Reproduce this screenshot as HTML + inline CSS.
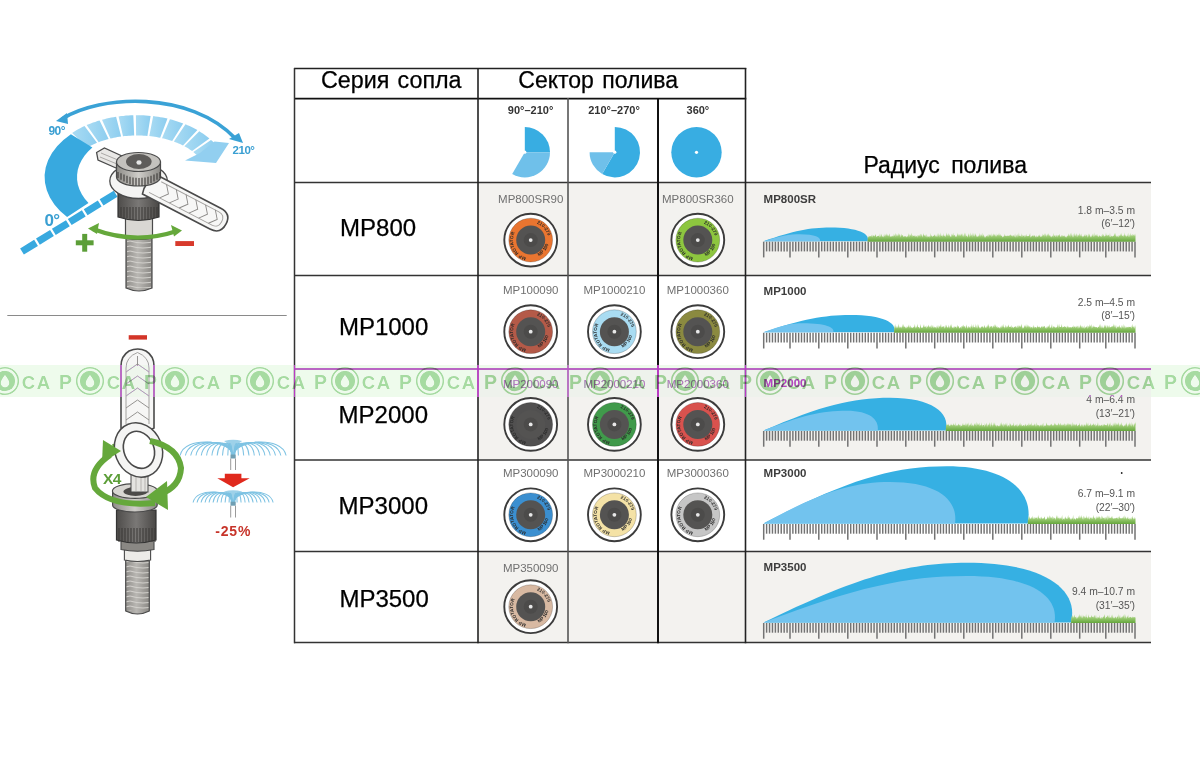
<!DOCTYPE html>
<html><head><meta charset="utf-8"><title>MP Rotator</title>
<style>
html,body{margin:0;padding:0;background:#fff;}
body{width:1200px;height:762px;overflow:hidden;position:relative;font-family:"Liberation Sans",sans-serif;}
svg.main{position:absolute;left:0;top:0;}
.wm{position:absolute;left:0;top:365px;width:1200px;height:31.5px;}
.wl{background:rgb(185,60,195);mix-blend-mode:lighten;}
.wov{background:rgb(238,251,236);mix-blend-mode:darken;}
</style></head><body>
<svg class="main" width="1200" height="762" viewBox="0 0 1200 762" font-family="Liberation Sans, sans-serif"><defs>
<g id="noz">
 <circle r="26.4" fill="#fff" stroke="#3c3c3c" stroke-width="1.9"/>
 <circle r="21.9" fill="currentColor" stroke="#000" stroke-opacity="0.25" stroke-width="0.8"/>
 <circle r="14.5" fill="#545352"/>
 <circle r="7" fill="#4c4b4a"/>
 <circle r="1.9" fill="#e8e8e8"/>
 <path id="arcL" d="M -4.5 17.2 A 17.8 17.8 0 0 1 -12 -13" fill="none"/>
 <text font-size="4.6" font-weight="bold" fill="#2a2a2a" letter-spacing="0.1"><textPath href="#arcL">MP ROTATOR</textPath></text>
 <path id="arcR" d="M 6 -16.5 A 17.8 17.8 0 0 1 17.5 3" fill="none"/>
 <text font-size="4.6" font-weight="bold" fill="#2a2a2a"><textPath href="#arcR">210-270</textPath></text>
 <path id="arcB" d="M 8 16 A 17.8 17.8 0 0 0 17.5 5" fill="none"/>
 <text font-size="4.6" font-weight="bold" fill="#2a2a2a"><textPath href="#arcB">MP 1000</textPath></text>
</g>
</defs><rect x="478" y="182.5" width="673" height="93.0" fill="#f3f2ef"/><rect x="478" y="369" width="673" height="91" fill="#f3f2ef"/><rect x="478" y="551.5" width="673" height="91.0" fill="#f3f2ef"/><line x1="294" y1="68.5" x2="746.3" y2="68.5" stroke="#222" stroke-width="1.4"/><line x1="294" y1="98.7" x2="746.3" y2="98.7" stroke="#111" stroke-width="1.8"/><line x1="294" y1="182.5" x2="1151" y2="182.5" stroke="#333" stroke-width="1.5"/><line x1="294" y1="275.5" x2="1151" y2="275.5" stroke="#333" stroke-width="1.5"/><line x1="294" y1="369" x2="1151" y2="369" stroke="#333" stroke-width="1.5"/><line x1="294" y1="460" x2="1151" y2="460" stroke="#333" stroke-width="1.5"/><line x1="294" y1="551.5" x2="1151" y2="551.5" stroke="#333" stroke-width="1.5"/><line x1="294" y1="642.5" x2="1151" y2="642.5" stroke="#333" stroke-width="1.5"/><line x1="294.5" y1="68" x2="294.5" y2="643.2" stroke="#333" stroke-width="1.5"/><line x1="478" y1="68" x2="478" y2="643.2" stroke="#222" stroke-width="1.6"/><line x1="568" y1="98" x2="568" y2="643.2" stroke="#555" stroke-width="1.6"/><line x1="658" y1="98" x2="658" y2="643.2" stroke="#111" stroke-width="2.0"/><line x1="745.5" y1="68" x2="745.5" y2="643.2" stroke="#222" stroke-width="1.6"/><text x="321" y="88.2" font-size="23.3" fill="#000" stroke="#000" stroke-width="0.25" word-spacing="1.7">Серия сопла</text><text x="518.3" y="88.2" font-size="23" fill="#000" stroke="#000" stroke-width="0.25" word-spacing="2">Сектор полива</text><text x="863.4" y="172.6" font-size="23" fill="#000" stroke="#000" stroke-width="0.25" word-spacing="5">Радиус полива</text><g font-size="11" font-weight="bold" fill="#333" text-anchor="middle"><text x="530.6" y="113.6">90°–210°</text><text x="614" y="113.6">210°–270°</text><text x="697.9" y="113.6">360°</text></g><path d="M524.8,152.2 L524.80,127.00 A25.2,25.2 0 0 1 550.00,152.20 Z" fill="#38ade2"/><path d="M524.8,152.2 L550.00,152.20 A25.2,25.2 0 0 1 512.20,174.02 Z" fill="#6fc0ea"/><path d="M614.8,152.2 L614.80,127.00 A25.2,25.2 0 1 1 602.20,174.02 Z" fill="#38ade2"/><path d="M614.8,152.2 L602.20,174.02 A25.2,25.2 0 0 1 589.60,152.20 Z" fill="#6fc0ea"/><circle cx="696.5" cy="152.3" r="25.2" fill="#38ade2"/><circle cx="524.8" cy="152.2" r="1.6" fill="#fff"/><circle cx="614.8" cy="152.2" r="1.6" fill="#fff"/><circle cx="696.5" cy="152.3" r="1.6" fill="#fff"/><text x="340.1" y="236" font-size="24" fill="#000" stroke="#000" stroke-width="0.25">MP800</text><text x="338.9" y="334.8" font-size="24" fill="#000" stroke="#000" stroke-width="0.25">MP1000</text><text x="338.6" y="422.7" font-size="24" fill="#000" stroke="#000" stroke-width="0.25">MP2000</text><text x="338.6" y="513.5" font-size="24" fill="#000" stroke="#000" stroke-width="0.25">MP3000</text><text x="339.4" y="607.1" font-size="24" fill="#000" stroke="#000" stroke-width="0.25">MP3500</text><text x="530.7" y="203.1" font-size="11.5" fill="#707070" text-anchor="middle">MP800SR90</text><use href="#noz" x="530.7" y="240.1" color="#ea7530"/><text x="697.8" y="203.1" font-size="11.5" fill="#707070" text-anchor="middle">MP800SR360</text><use href="#noz" x="697.8" y="240.1" color="#8dc63f"/><text x="530.7" y="293.5" font-size="11.5" fill="#707070" text-anchor="middle">MP100090</text><use href="#noz" x="530.7" y="331.7" color="#b45a48"/><text x="614.4" y="293.5" font-size="11.5" fill="#707070" text-anchor="middle">MP1000210</text><use href="#noz" x="614.4" y="331.7" color="#a9dcf2"/><text x="697.8" y="293.5" font-size="11.5" fill="#707070" text-anchor="middle">MP1000360</text><use href="#noz" x="697.8" y="331.7" color="#8b8a40"/><text x="530.7" y="387.5" font-size="11.5" fill="#707070" text-anchor="middle">MP200090</text><use href="#noz" x="530.7" y="424.4" color="#515050"/><text x="614.4" y="387.5" font-size="11.5" fill="#707070" text-anchor="middle">MP2000210</text><use href="#noz" x="614.4" y="424.4" color="#409a4b"/><text x="697.8" y="387.5" font-size="11.5" fill="#707070" text-anchor="middle">MP2000360</text><use href="#noz" x="697.8" y="424.4" color="#d9524e"/><text x="530.7" y="476.7" font-size="11.5" fill="#707070" text-anchor="middle">MP300090</text><use href="#noz" x="530.7" y="514.8" color="#3b8fd0"/><text x="614.4" y="476.7" font-size="11.5" fill="#707070" text-anchor="middle">MP3000210</text><use href="#noz" x="614.4" y="514.8" color="#f4e2a6"/><text x="697.8" y="476.7" font-size="11.5" fill="#707070" text-anchor="middle">MP3000360</text><use href="#noz" x="697.8" y="514.8" color="#c6c6c6"/><text x="530.7" y="571.5" font-size="11.5" fill="#707070" text-anchor="middle">MP350090</text><use href="#noz" x="530.7" y="606.7" color="#d8b9a2"/><defs><linearGradient id="grassg" x1="0" y1="0" x2="0" y2="1">
<stop offset="0" stop-color="#d2ebbc"/><stop offset="0.45" stop-color="#9ccb74"/><stop offset="1" stop-color="#64a63c"/></linearGradient></defs><path d="M763.5,241.2 C793.4,230.9 810.0,227.5 830.0,227.5 C858.1,227.5 870.5,233.7 867.5,241.2 Z" fill="#36b0e3"/><path d="M763.5,241.2 C779.9,235.9 789.0,234.2 800.0,234.2 C815.0,234.2 821.0,237.3 820.0,241.2 Z" fill="#72c3ee"/><path d="M867.5,241.7 L868.0,234.9 L868.5,237.4 L869.5,235.9 L870.0,236.6 L870.8,236.0 L871.3,236.7 L871.8,234.5 L872.3,237.6 L872.9,234.5 L873.4,236.0 L874.0,235.3 L874.5,236.4 L875.8,233.9 L876.3,236.9 L877.6,236.0 L878.1,236.0 L878.8,235.6 L879.3,237.5 L880.0,232.9 L880.5,237.3 L881.5,233.6 L882.0,237.0 L882.9,235.9 L883.4,237.6 L884.1,233.5 L884.6,236.8 L885.4,233.9 L885.9,236.8 L886.6,233.0 L887.1,236.3 L887.8,233.9 L888.3,236.6 L889.5,233.3 L890.0,237.1 L891.3,235.7 L891.8,236.9 L892.9,235.6 L893.4,236.7 L893.9,233.5 L894.4,236.2 L895.4,232.7 L895.9,237.1 L896.9,233.8 L897.4,236.5 L898.3,232.8 L898.8,235.8 L899.7,233.5 L900.2,237.6 L901.2,233.6 L901.7,235.7 L902.9,235.1 L903.4,236.9 L904.4,236.1 L904.9,236.8 L905.6,235.7 L906.1,237.6 L907.2,235.7 L907.7,237.2 L908.5,232.7 L909.0,237.5 L909.8,234.0 L910.3,235.9 L911.5,232.7 L912.0,237.1 L912.8,234.8 L913.3,235.9 L914.6,235.6 L915.1,237.3 L915.8,235.3 L916.3,236.7 L917.3,235.1 L917.8,237.7 L918.6,234.7 L919.1,236.6 L920.4,233.4 L920.9,236.7 L921.8,233.5 L922.3,237.6 L923.6,233.1 L924.1,236.0 L925.2,234.6 L925.7,236.9 L926.3,233.7 L926.8,237.6 L927.3,235.4 L927.8,237.4 L928.6,236.0 L929.1,237.7 L929.7,235.8 L930.2,237.0 L930.8,232.7 L931.3,236.5 L931.9,235.2 L932.4,237.0 L933.2,235.7 L933.7,236.0 L935.0,234.3 L935.5,236.7 L936.0,235.8 L936.5,237.0 L937.2,232.9 L937.7,237.4 L938.3,232.4 L938.8,236.6 L939.4,234.0 L939.9,237.6 L940.8,232.3 L941.3,236.0 L942.4,235.2 L942.9,237.0 L943.5,233.1 L944.0,236.6 L945.1,234.9 L945.6,237.3 L946.8,232.3 L947.3,236.0 L948.4,232.9 L948.9,236.2 L949.6,234.1 L950.1,237.0 L950.6,236.1 L951.1,237.1 L951.8,233.4 L952.3,235.8 L953.2,232.5 L953.7,235.7 L954.9,234.7 L955.4,237.3 L956.1,235.4 L956.6,237.3 L957.6,232.6 L958.1,236.0 L959.0,233.6 L959.5,236.1 L960.1,233.6 L960.6,235.9 L961.7,233.2 L962.2,236.7 L962.8,233.0 L963.3,237.0 L964.5,232.3 L965.0,236.9 L965.8,232.4 L966.3,236.3 L966.9,235.7 L967.4,237.4 L968.7,233.0 L969.2,237.4 L970.3,232.3 L970.8,236.4 L971.6,234.0 L972.1,237.4 L972.6,232.3 L973.1,236.4 L974.0,232.5 L974.5,236.8 L975.7,232.9 L976.2,237.3 L976.9,235.0 L977.4,237.2 L978.4,235.2 L978.9,236.9 L979.5,232.6 L980.0,237.0 L980.9,233.9 L981.4,235.9 L982.2,232.5 L982.7,236.7 L983.6,234.1 L984.1,237.7 L985.0,235.5 L985.5,237.7 L986.6,235.5 L987.1,236.8 L988.2,234.0 L988.7,237.0 L989.6,234.0 L990.1,236.1 L990.7,234.0 L991.2,237.2 L991.9,233.1 L992.4,236.7 L993.4,233.2 L993.9,235.9 L994.7,233.7 L995.2,236.7 L996.1,233.4 L996.6,236.8 L997.6,234.3 L998.1,235.8 L999.1,232.7 L999.6,235.8 L1000.3,234.0 L1000.8,235.8 L1002.0,235.7 L1002.5,237.5 L1003.4,235.9 L1003.9,237.2 L1004.4,233.5 L1004.9,236.1 L1006.1,235.6 L1006.6,236.3 L1007.7,235.6 L1008.2,235.9 L1009.4,235.3 L1009.9,235.8 L1010.8,234.3 L1011.3,235.7 L1012.4,235.6 L1012.9,236.8 L1013.8,234.8 L1014.3,237.3 L1015.1,233.3 L1015.6,237.7 L1016.5,234.4 L1017.0,237.7 L1017.8,233.7 L1018.3,236.7 L1018.9,232.3 L1019.4,236.1 L1020.6,235.8 L1021.1,237.2 L1021.7,233.1 L1022.2,237.2 L1022.8,234.5 L1023.3,235.9 L1024.4,235.2 L1024.9,237.4 L1026.2,233.9 L1026.7,236.3 L1027.2,236.0 L1027.7,236.3 L1028.6,235.9 L1029.1,235.8 L1030.1,233.0 L1030.6,237.5 L1031.8,235.9 L1032.3,236.0 L1033.1,234.8 L1033.6,236.6 L1034.9,235.1 L1035.4,237.4 L1036.3,235.2 L1036.8,237.5 L1037.4,236.0 L1037.9,237.3 L1038.7,235.0 L1039.2,236.2 L1039.9,234.2 L1040.4,237.3 L1041.2,236.1 L1041.7,237.2 L1042.2,233.3 L1042.7,236.6 L1043.3,234.3 L1043.8,235.8 L1044.4,232.9 L1044.9,236.8 L1045.8,232.9 L1046.3,236.9 L1047.2,233.4 L1047.7,235.7 L1048.5,232.9 L1049.0,236.3 L1050.0,234.6 L1050.5,237.0 L1051.1,235.7 L1051.6,237.6 L1052.6,235.2 L1053.1,237.4 L1053.7,232.8 L1054.2,236.0 L1055.2,235.1 L1055.7,237.2 L1056.5,234.4 L1057.0,237.4 L1057.8,235.1 L1058.3,235.8 L1059.6,234.0 L1060.1,237.2 L1061.4,235.0 L1061.9,237.0 L1062.4,234.7 L1062.9,236.8 L1063.8,235.4 L1064.3,236.7 L1064.8,235.1 L1065.3,237.5 L1066.1,236.0 L1066.6,237.7 L1067.4,235.3 L1067.9,236.5 L1068.8,233.2 L1069.3,236.4 L1070.4,232.7 L1070.9,236.9 L1071.6,232.3 L1072.1,237.4 L1073.2,233.6 L1073.7,237.6 L1074.9,232.6 L1075.4,236.4 L1076.5,233.0 L1077.0,237.4 L1077.9,234.2 L1078.4,236.0 L1079.5,232.9 L1080.0,236.5 L1081.2,233.5 L1081.7,236.3 L1082.4,236.1 L1082.9,237.4 L1083.7,235.8 L1084.2,236.0 L1085.1,233.7 L1085.6,236.4 L1086.7,234.2 L1087.2,237.7 L1088.3,233.2 L1088.8,236.7 L1089.8,233.6 L1090.3,237.6 L1091.3,235.2 L1091.8,237.6 L1092.6,233.3 L1093.1,237.3 L1094.2,232.3 L1094.7,236.7 L1095.5,234.3 L1096.0,236.3 L1097.1,233.7 L1097.6,236.4 L1098.1,235.6 L1098.6,237.2 L1099.7,235.0 L1100.2,236.6 L1100.7,236.0 L1101.2,237.2 L1102.3,233.4 L1102.8,236.3 L1103.5,234.1 L1104.0,236.8 L1104.9,235.7 L1105.4,235.9 L1106.0,232.3 L1106.5,235.8 L1107.1,234.4 L1107.6,236.1 L1108.8,234.4 L1109.3,237.2 L1110.0,232.4 L1110.5,237.3 L1111.5,235.6 L1112.0,236.7 L1113.2,235.7 L1113.7,236.1 L1114.6,232.7 L1115.1,236.3 L1115.8,232.6 L1116.3,236.7 L1116.8,236.2 L1117.3,236.7 L1118.2,235.0 L1118.7,237.4 L1119.5,234.9 L1120.0,236.0 L1120.5,233.2 L1121.0,236.0 L1121.6,232.5 L1122.1,236.3 L1123.3,235.0 L1123.8,237.0 L1124.6,232.2 L1125.1,236.5 L1125.9,234.5 L1126.4,237.1 L1126.9,235.8 L1127.4,236.0 L1128.2,232.5 L1128.7,237.2 L1129.4,234.2 L1129.9,237.3 L1130.7,232.4 L1131.2,235.9 L1132.3,233.7 L1132.8,235.9 L1134.1,234.0 L1134.6,236.3 L1135.1,233.3 L1135.6,236.8 L1135.5,235.2 L1135.5,241.7 Z" fill="url(#grassg)"/><g stroke="#737373" stroke-width="1.45"><line x1="763.70" y1="241.7" x2="763.70" y2="257.4" stroke-width="1.5"/><line x1="790.00" y1="241.7" x2="790.00" y2="257.4" stroke-width="1.5"/><line x1="818.80" y1="241.7" x2="818.80" y2="257.4" stroke-width="1.5"/><line x1="847.80" y1="241.7" x2="847.80" y2="257.4" stroke-width="1.5"/><line x1="877.00" y1="241.7" x2="877.00" y2="257.4" stroke-width="1.5"/><line x1="905.80" y1="241.7" x2="905.80" y2="257.4" stroke-width="1.5"/><line x1="934.70" y1="241.7" x2="934.70" y2="257.4" stroke-width="1.5"/><line x1="963.80" y1="241.7" x2="963.80" y2="257.4" stroke-width="1.5"/><line x1="992.80" y1="241.7" x2="992.80" y2="257.4" stroke-width="1.5"/><line x1="1021.80" y1="241.7" x2="1021.80" y2="257.4" stroke-width="1.5"/><line x1="1050.80" y1="241.7" x2="1050.80" y2="257.4" stroke-width="1.5"/><line x1="1079.70" y1="241.7" x2="1079.70" y2="257.4" stroke-width="1.5"/><line x1="1105.80" y1="241.7" x2="1105.80" y2="257.4" stroke-width="1.5"/><line x1="1135.00" y1="241.7" x2="1135.00" y2="257.4" stroke-width="1.5"/><line x1="766.62" y1="241.7" x2="766.62" y2="251.39999999999998"/><line x1="769.54" y1="241.7" x2="769.54" y2="251.39999999999998"/><line x1="772.47" y1="241.7" x2="772.47" y2="251.39999999999998"/><line x1="775.39" y1="241.7" x2="775.39" y2="251.39999999999998"/><line x1="778.31" y1="241.7" x2="778.31" y2="251.39999999999998"/><line x1="781.23" y1="241.7" x2="781.23" y2="251.39999999999998"/><line x1="784.16" y1="241.7" x2="784.16" y2="251.39999999999998"/><line x1="787.08" y1="241.7" x2="787.08" y2="251.39999999999998"/><line x1="792.88" y1="241.7" x2="792.88" y2="251.39999999999998"/><line x1="795.76" y1="241.7" x2="795.76" y2="251.39999999999998"/><line x1="798.64" y1="241.7" x2="798.64" y2="251.39999999999998"/><line x1="801.52" y1="241.7" x2="801.52" y2="251.39999999999998"/><line x1="804.40" y1="241.7" x2="804.40" y2="251.39999999999998"/><line x1="807.28" y1="241.7" x2="807.28" y2="251.39999999999998"/><line x1="810.16" y1="241.7" x2="810.16" y2="251.39999999999998"/><line x1="813.04" y1="241.7" x2="813.04" y2="251.39999999999998"/><line x1="815.92" y1="241.7" x2="815.92" y2="251.39999999999998"/><line x1="821.70" y1="241.7" x2="821.70" y2="251.39999999999998"/><line x1="824.60" y1="241.7" x2="824.60" y2="251.39999999999998"/><line x1="827.50" y1="241.7" x2="827.50" y2="251.39999999999998"/><line x1="830.40" y1="241.7" x2="830.40" y2="251.39999999999998"/><line x1="833.30" y1="241.7" x2="833.30" y2="251.39999999999998"/><line x1="836.20" y1="241.7" x2="836.20" y2="251.39999999999998"/><line x1="839.10" y1="241.7" x2="839.10" y2="251.39999999999998"/><line x1="842.00" y1="241.7" x2="842.00" y2="251.39999999999998"/><line x1="844.90" y1="241.7" x2="844.90" y2="251.39999999999998"/><line x1="850.72" y1="241.7" x2="850.72" y2="251.39999999999998"/><line x1="853.64" y1="241.7" x2="853.64" y2="251.39999999999998"/><line x1="856.56" y1="241.7" x2="856.56" y2="251.39999999999998"/><line x1="859.48" y1="241.7" x2="859.48" y2="251.39999999999998"/><line x1="862.40" y1="241.7" x2="862.40" y2="251.39999999999998"/><line x1="865.32" y1="241.7" x2="865.32" y2="251.39999999999998"/><line x1="868.24" y1="241.7" x2="868.24" y2="251.39999999999998"/><line x1="871.16" y1="241.7" x2="871.16" y2="251.39999999999998"/><line x1="874.08" y1="241.7" x2="874.08" y2="251.39999999999998"/><line x1="879.88" y1="241.7" x2="879.88" y2="251.39999999999998"/><line x1="882.76" y1="241.7" x2="882.76" y2="251.39999999999998"/><line x1="885.64" y1="241.7" x2="885.64" y2="251.39999999999998"/><line x1="888.52" y1="241.7" x2="888.52" y2="251.39999999999998"/><line x1="891.40" y1="241.7" x2="891.40" y2="251.39999999999998"/><line x1="894.28" y1="241.7" x2="894.28" y2="251.39999999999998"/><line x1="897.16" y1="241.7" x2="897.16" y2="251.39999999999998"/><line x1="900.04" y1="241.7" x2="900.04" y2="251.39999999999998"/><line x1="902.92" y1="241.7" x2="902.92" y2="251.39999999999998"/><line x1="908.69" y1="241.7" x2="908.69" y2="251.39999999999998"/><line x1="911.58" y1="241.7" x2="911.58" y2="251.39999999999998"/><line x1="914.47" y1="241.7" x2="914.47" y2="251.39999999999998"/><line x1="917.36" y1="241.7" x2="917.36" y2="251.39999999999998"/><line x1="920.25" y1="241.7" x2="920.25" y2="251.39999999999998"/><line x1="923.14" y1="241.7" x2="923.14" y2="251.39999999999998"/><line x1="926.03" y1="241.7" x2="926.03" y2="251.39999999999998"/><line x1="928.92" y1="241.7" x2="928.92" y2="251.39999999999998"/><line x1="931.81" y1="241.7" x2="931.81" y2="251.39999999999998"/><line x1="937.61" y1="241.7" x2="937.61" y2="251.39999999999998"/><line x1="940.52" y1="241.7" x2="940.52" y2="251.39999999999998"/><line x1="943.43" y1="241.7" x2="943.43" y2="251.39999999999998"/><line x1="946.34" y1="241.7" x2="946.34" y2="251.39999999999998"/><line x1="949.25" y1="241.7" x2="949.25" y2="251.39999999999998"/><line x1="952.16" y1="241.7" x2="952.16" y2="251.39999999999998"/><line x1="955.07" y1="241.7" x2="955.07" y2="251.39999999999998"/><line x1="957.98" y1="241.7" x2="957.98" y2="251.39999999999998"/><line x1="960.89" y1="241.7" x2="960.89" y2="251.39999999999998"/><line x1="966.70" y1="241.7" x2="966.70" y2="251.39999999999998"/><line x1="969.60" y1="241.7" x2="969.60" y2="251.39999999999998"/><line x1="972.50" y1="241.7" x2="972.50" y2="251.39999999999998"/><line x1="975.40" y1="241.7" x2="975.40" y2="251.39999999999998"/><line x1="978.30" y1="241.7" x2="978.30" y2="251.39999999999998"/><line x1="981.20" y1="241.7" x2="981.20" y2="251.39999999999998"/><line x1="984.10" y1="241.7" x2="984.10" y2="251.39999999999998"/><line x1="987.00" y1="241.7" x2="987.00" y2="251.39999999999998"/><line x1="989.90" y1="241.7" x2="989.90" y2="251.39999999999998"/><line x1="995.70" y1="241.7" x2="995.70" y2="251.39999999999998"/><line x1="998.60" y1="241.7" x2="998.60" y2="251.39999999999998"/><line x1="1001.50" y1="241.7" x2="1001.50" y2="251.39999999999998"/><line x1="1004.40" y1="241.7" x2="1004.40" y2="251.39999999999998"/><line x1="1007.30" y1="241.7" x2="1007.30" y2="251.39999999999998"/><line x1="1010.20" y1="241.7" x2="1010.20" y2="251.39999999999998"/><line x1="1013.10" y1="241.7" x2="1013.10" y2="251.39999999999998"/><line x1="1016.00" y1="241.7" x2="1016.00" y2="251.39999999999998"/><line x1="1018.90" y1="241.7" x2="1018.90" y2="251.39999999999998"/><line x1="1024.70" y1="241.7" x2="1024.70" y2="251.39999999999998"/><line x1="1027.60" y1="241.7" x2="1027.60" y2="251.39999999999998"/><line x1="1030.50" y1="241.7" x2="1030.50" y2="251.39999999999998"/><line x1="1033.40" y1="241.7" x2="1033.40" y2="251.39999999999998"/><line x1="1036.30" y1="241.7" x2="1036.30" y2="251.39999999999998"/><line x1="1039.20" y1="241.7" x2="1039.20" y2="251.39999999999998"/><line x1="1042.10" y1="241.7" x2="1042.10" y2="251.39999999999998"/><line x1="1045.00" y1="241.7" x2="1045.00" y2="251.39999999999998"/><line x1="1047.90" y1="241.7" x2="1047.90" y2="251.39999999999998"/><line x1="1053.69" y1="241.7" x2="1053.69" y2="251.39999999999998"/><line x1="1056.58" y1="241.7" x2="1056.58" y2="251.39999999999998"/><line x1="1059.47" y1="241.7" x2="1059.47" y2="251.39999999999998"/><line x1="1062.36" y1="241.7" x2="1062.36" y2="251.39999999999998"/><line x1="1065.25" y1="241.7" x2="1065.25" y2="251.39999999999998"/><line x1="1068.14" y1="241.7" x2="1068.14" y2="251.39999999999998"/><line x1="1071.03" y1="241.7" x2="1071.03" y2="251.39999999999998"/><line x1="1073.92" y1="241.7" x2="1073.92" y2="251.39999999999998"/><line x1="1076.81" y1="241.7" x2="1076.81" y2="251.39999999999998"/><line x1="1082.60" y1="241.7" x2="1082.60" y2="251.39999999999998"/><line x1="1085.50" y1="241.7" x2="1085.50" y2="251.39999999999998"/><line x1="1088.40" y1="241.7" x2="1088.40" y2="251.39999999999998"/><line x1="1091.30" y1="241.7" x2="1091.30" y2="251.39999999999998"/><line x1="1094.20" y1="241.7" x2="1094.20" y2="251.39999999999998"/><line x1="1097.10" y1="241.7" x2="1097.10" y2="251.39999999999998"/><line x1="1100.00" y1="241.7" x2="1100.00" y2="251.39999999999998"/><line x1="1102.90" y1="241.7" x2="1102.90" y2="251.39999999999998"/><line x1="1108.72" y1="241.7" x2="1108.72" y2="251.39999999999998"/><line x1="1111.64" y1="241.7" x2="1111.64" y2="251.39999999999998"/><line x1="1114.56" y1="241.7" x2="1114.56" y2="251.39999999999998"/><line x1="1117.48" y1="241.7" x2="1117.48" y2="251.39999999999998"/><line x1="1120.40" y1="241.7" x2="1120.40" y2="251.39999999999998"/><line x1="1123.32" y1="241.7" x2="1123.32" y2="251.39999999999998"/><line x1="1126.24" y1="241.7" x2="1126.24" y2="251.39999999999998"/><line x1="1129.16" y1="241.7" x2="1129.16" y2="251.39999999999998"/><line x1="1132.08" y1="241.7" x2="1132.08" y2="251.39999999999998"/></g><text x="763.6" y="203.2" font-size="11.5" font-weight="bold" fill="#3d3d3d">MP800SR</text><text x="1135" y="213.7" font-size="10.3" fill="#555" text-anchor="end">1.8 m–3.5 m</text><text x="1135" y="227.4" font-size="10.3" fill="#555" text-anchor="end">(6′–12′)</text><path d="M763.5,332.3 C802.4,319.3 824.0,315.0 850.0,315.0 C883.0,315.0 897.5,322.8 894.0,332.3 Z" fill="#36b0e3"/><path d="M763.5,332.3 C781.3,325.6 791.1,323.3 803.0,323.3 C825.7,323.3 834.8,327.4 833.3,332.3 Z" fill="#72c3ee"/><path d="M894.0,332.8 L894.5,324.7 L895.0,328.2 L895.5,323.6 L896.0,328.5 L896.9,325.9 L897.4,328.2 L898.5,323.4 L899.0,328.3 L900.0,326.1 L900.5,327.7 L901.3,326.6 L901.8,328.5 L902.5,323.7 L903.0,327.8 L903.7,323.7 L904.2,326.8 L905.1,326.7 L905.6,328.4 L906.1,325.9 L906.6,328.6 L907.3,326.3 L907.8,327.7 L909.0,324.3 L909.5,328.0 L910.4,325.2 L910.9,328.0 L911.6,327.1 L912.1,328.2 L913.4,326.8 L913.9,327.8 L914.9,323.8 L915.4,328.4 L916.1,326.3 L916.6,328.0 L917.5,323.5 L918.0,327.1 L919.2,327.2 L919.7,328.7 L920.7,323.7 L921.2,327.9 L922.2,327.3 L922.7,328.0 L924.0,324.0 L924.5,327.1 L925.7,326.3 L926.2,328.6 L926.9,325.2 L927.4,327.4 L928.6,324.4 L929.1,327.5 L930.2,325.5 L930.7,327.7 L931.3,324.2 L931.8,328.3 L933.0,324.7 L933.5,328.2 L934.1,326.3 L934.6,327.5 L935.6,326.9 L936.1,328.7 L937.1,325.0 L937.6,328.0 L938.2,324.9 L938.7,328.8 L939.5,325.5 L940.0,326.9 L941.0,323.8 L941.5,327.8 L942.2,326.3 L942.7,326.9 L943.8,326.1 L944.3,328.8 L945.2,324.6 L945.7,328.0 L946.4,324.6 L946.9,326.9 L947.5,327.2 L948.0,328.1 L948.9,324.6 L949.4,328.4 L950.5,324.3 L951.0,327.8 L951.7,323.4 L952.2,328.2 L953.3,326.4 L953.8,328.4 L954.9,326.1 L955.4,326.9 L956.3,326.6 L956.8,328.4 L957.7,324.6 L958.2,326.9 L958.8,325.7 L959.3,328.4 L960.6,326.7 L961.1,328.7 L961.6,325.7 L962.1,327.0 L963.3,324.4 L963.8,326.8 L965.1,326.0 L965.6,328.4 L966.8,324.3 L967.3,328.7 L968.4,325.8 L968.9,328.1 L969.6,326.6 L970.1,328.8 L970.8,325.9 L971.3,326.9 L971.9,323.4 L972.4,328.4 L973.2,324.0 L973.7,327.2 L974.6,327.1 L975.1,327.9 L975.9,323.6 L976.4,328.4 L977.2,323.7 L977.7,328.7 L978.5,324.1 L979.0,327.3 L979.5,327.2 L980.0,328.7 L981.3,326.3 L981.8,327.3 L983.0,325.9 L983.5,328.3 L984.7,324.8 L985.2,328.3 L986.3,326.0 L986.8,328.2 L987.3,324.3 L987.8,327.0 L988.8,323.5 L989.3,328.8 L990.0,325.4 L990.5,326.9 L991.8,325.8 L992.3,328.3 L993.1,325.3 L993.6,326.9 L994.3,324.1 L994.8,327.3 L995.9,324.2 L996.4,327.6 L997.2,326.0 L997.7,328.1 L998.8,327.0 L999.3,328.4 L1000.4,326.3 L1000.9,328.7 L1001.4,325.1 L1001.9,328.1 L1003.2,323.8 L1003.7,326.8 L1004.4,327.0 L1004.9,328.6 L1005.8,324.5 L1006.3,327.9 L1007.0,325.6 L1007.5,327.6 L1008.6,324.3 L1009.1,327.1 L1010.1,326.8 L1010.6,327.1 L1011.3,325.0 L1011.8,328.1 L1012.9,326.5 L1013.4,328.3 L1014.1,326.7 L1014.6,327.0 L1015.6,326.0 L1016.1,328.0 L1017.4,325.3 L1017.9,328.3 L1019.0,324.7 L1019.5,326.8 L1020.1,325.4 L1020.6,327.2 L1021.8,323.6 L1022.3,328.7 L1023.0,326.8 L1023.5,328.4 L1024.8,325.0 L1025.3,326.9 L1026.1,323.8 L1026.6,327.9 L1027.3,324.2 L1027.8,326.9 L1028.4,324.9 L1028.9,327.6 L1029.6,325.8 L1030.1,328.5 L1030.7,326.3 L1031.2,327.6 L1032.2,326.5 L1032.7,328.8 L1033.5,324.6 L1034.0,328.4 L1034.7,326.5 L1035.2,327.2 L1036.2,327.0 L1036.7,328.6 L1037.5,325.1 L1038.0,327.5 L1038.6,326.6 L1039.1,327.4 L1039.9,326.2 L1040.4,328.2 L1041.7,326.1 L1042.2,327.7 L1043.0,325.6 L1043.5,327.1 L1044.8,325.8 L1045.3,328.4 L1046.3,326.5 L1046.8,328.8 L1048.1,325.6 L1048.6,327.2 L1049.4,323.8 L1049.9,327.9 L1050.5,327.2 L1051.0,327.7 L1052.0,323.7 L1052.5,328.6 L1053.5,325.8 L1054.0,327.8 L1054.6,326.2 L1055.1,327.8 L1056.4,326.9 L1056.9,327.8 L1058.0,323.4 L1058.5,328.4 L1059.1,323.5 L1059.6,326.8 L1060.5,327.1 L1061.0,326.9 L1061.8,323.7 L1062.3,327.6 L1063.5,326.7 L1064.0,327.2 L1064.7,325.7 L1065.2,327.1 L1066.3,326.6 L1066.8,328.4 L1067.6,325.2 L1068.1,328.0 L1068.7,326.3 L1069.2,327.4 L1070.5,327.1 L1071.0,327.7 L1072.1,327.1 L1072.6,327.1 L1073.2,324.9 L1073.7,327.7 L1074.7,326.1 L1075.2,328.0 L1076.1,325.6 L1076.6,327.5 L1077.5,325.5 L1078.0,328.8 L1079.0,325.3 L1079.5,328.3 L1080.6,324.2 L1081.1,327.9 L1081.7,325.4 L1082.2,328.6 L1082.8,325.6 L1083.3,328.6 L1084.2,325.3 L1084.7,328.7 L1085.7,327.0 L1086.2,327.3 L1087.3,325.3 L1087.8,328.7 L1088.7,325.8 L1089.2,326.9 L1089.8,323.9 L1090.3,326.8 L1091.4,324.0 L1091.9,328.4 L1093.2,325.3 L1093.7,326.9 L1094.9,326.6 L1095.4,327.2 L1096.7,327.0 L1097.2,328.1 L1098.3,326.7 L1098.8,327.0 L1099.5,324.0 L1100.0,328.5 L1100.9,323.6 L1101.4,328.4 L1102.1,325.3 L1102.6,328.2 L1103.1,326.6 L1103.6,328.5 L1104.9,324.6 L1105.4,327.0 L1106.0,324.2 L1106.5,328.6 L1107.5,324.8 L1108.0,328.1 L1109.2,325.1 L1109.7,327.6 L1110.9,326.9 L1111.4,326.8 L1112.4,325.7 L1112.9,327.2 L1113.6,323.3 L1114.1,327.6 L1114.9,324.2 L1115.4,327.9 L1116.0,324.3 L1116.5,328.7 L1117.7,326.3 L1118.2,327.5 L1119.4,325.0 L1119.9,327.5 L1120.7,327.3 L1121.2,328.7 L1121.8,324.8 L1122.3,327.9 L1123.2,323.7 L1123.7,328.5 L1124.4,324.7 L1124.9,328.8 L1125.4,325.9 L1125.9,328.6 L1126.7,326.4 L1127.2,327.6 L1128.2,326.5 L1128.7,327.6 L1129.5,326.8 L1130.0,326.9 L1130.7,326.7 L1131.2,328.6 L1132.3,323.8 L1132.8,327.2 L1133.6,326.2 L1134.1,328.8 L1135.1,325.1 L1135.6,328.1 L1135.5,326.3 L1135.5,332.8 Z" fill="url(#grassg)"/><g stroke="#737373" stroke-width="1.45"><line x1="763.70" y1="332.8" x2="763.70" y2="348.5" stroke-width="1.5"/><line x1="790.00" y1="332.8" x2="790.00" y2="348.5" stroke-width="1.5"/><line x1="818.80" y1="332.8" x2="818.80" y2="348.5" stroke-width="1.5"/><line x1="847.80" y1="332.8" x2="847.80" y2="348.5" stroke-width="1.5"/><line x1="877.00" y1="332.8" x2="877.00" y2="348.5" stroke-width="1.5"/><line x1="905.80" y1="332.8" x2="905.80" y2="348.5" stroke-width="1.5"/><line x1="934.70" y1="332.8" x2="934.70" y2="348.5" stroke-width="1.5"/><line x1="963.80" y1="332.8" x2="963.80" y2="348.5" stroke-width="1.5"/><line x1="992.80" y1="332.8" x2="992.80" y2="348.5" stroke-width="1.5"/><line x1="1021.80" y1="332.8" x2="1021.80" y2="348.5" stroke-width="1.5"/><line x1="1050.80" y1="332.8" x2="1050.80" y2="348.5" stroke-width="1.5"/><line x1="1079.70" y1="332.8" x2="1079.70" y2="348.5" stroke-width="1.5"/><line x1="1105.80" y1="332.8" x2="1105.80" y2="348.5" stroke-width="1.5"/><line x1="1135.00" y1="332.8" x2="1135.00" y2="348.5" stroke-width="1.5"/><line x1="766.62" y1="332.8" x2="766.62" y2="342.5"/><line x1="769.54" y1="332.8" x2="769.54" y2="342.5"/><line x1="772.47" y1="332.8" x2="772.47" y2="342.5"/><line x1="775.39" y1="332.8" x2="775.39" y2="342.5"/><line x1="778.31" y1="332.8" x2="778.31" y2="342.5"/><line x1="781.23" y1="332.8" x2="781.23" y2="342.5"/><line x1="784.16" y1="332.8" x2="784.16" y2="342.5"/><line x1="787.08" y1="332.8" x2="787.08" y2="342.5"/><line x1="792.88" y1="332.8" x2="792.88" y2="342.5"/><line x1="795.76" y1="332.8" x2="795.76" y2="342.5"/><line x1="798.64" y1="332.8" x2="798.64" y2="342.5"/><line x1="801.52" y1="332.8" x2="801.52" y2="342.5"/><line x1="804.40" y1="332.8" x2="804.40" y2="342.5"/><line x1="807.28" y1="332.8" x2="807.28" y2="342.5"/><line x1="810.16" y1="332.8" x2="810.16" y2="342.5"/><line x1="813.04" y1="332.8" x2="813.04" y2="342.5"/><line x1="815.92" y1="332.8" x2="815.92" y2="342.5"/><line x1="821.70" y1="332.8" x2="821.70" y2="342.5"/><line x1="824.60" y1="332.8" x2="824.60" y2="342.5"/><line x1="827.50" y1="332.8" x2="827.50" y2="342.5"/><line x1="830.40" y1="332.8" x2="830.40" y2="342.5"/><line x1="833.30" y1="332.8" x2="833.30" y2="342.5"/><line x1="836.20" y1="332.8" x2="836.20" y2="342.5"/><line x1="839.10" y1="332.8" x2="839.10" y2="342.5"/><line x1="842.00" y1="332.8" x2="842.00" y2="342.5"/><line x1="844.90" y1="332.8" x2="844.90" y2="342.5"/><line x1="850.72" y1="332.8" x2="850.72" y2="342.5"/><line x1="853.64" y1="332.8" x2="853.64" y2="342.5"/><line x1="856.56" y1="332.8" x2="856.56" y2="342.5"/><line x1="859.48" y1="332.8" x2="859.48" y2="342.5"/><line x1="862.40" y1="332.8" x2="862.40" y2="342.5"/><line x1="865.32" y1="332.8" x2="865.32" y2="342.5"/><line x1="868.24" y1="332.8" x2="868.24" y2="342.5"/><line x1="871.16" y1="332.8" x2="871.16" y2="342.5"/><line x1="874.08" y1="332.8" x2="874.08" y2="342.5"/><line x1="879.88" y1="332.8" x2="879.88" y2="342.5"/><line x1="882.76" y1="332.8" x2="882.76" y2="342.5"/><line x1="885.64" y1="332.8" x2="885.64" y2="342.5"/><line x1="888.52" y1="332.8" x2="888.52" y2="342.5"/><line x1="891.40" y1="332.8" x2="891.40" y2="342.5"/><line x1="894.28" y1="332.8" x2="894.28" y2="342.5"/><line x1="897.16" y1="332.8" x2="897.16" y2="342.5"/><line x1="900.04" y1="332.8" x2="900.04" y2="342.5"/><line x1="902.92" y1="332.8" x2="902.92" y2="342.5"/><line x1="908.69" y1="332.8" x2="908.69" y2="342.5"/><line x1="911.58" y1="332.8" x2="911.58" y2="342.5"/><line x1="914.47" y1="332.8" x2="914.47" y2="342.5"/><line x1="917.36" y1="332.8" x2="917.36" y2="342.5"/><line x1="920.25" y1="332.8" x2="920.25" y2="342.5"/><line x1="923.14" y1="332.8" x2="923.14" y2="342.5"/><line x1="926.03" y1="332.8" x2="926.03" y2="342.5"/><line x1="928.92" y1="332.8" x2="928.92" y2="342.5"/><line x1="931.81" y1="332.8" x2="931.81" y2="342.5"/><line x1="937.61" y1="332.8" x2="937.61" y2="342.5"/><line x1="940.52" y1="332.8" x2="940.52" y2="342.5"/><line x1="943.43" y1="332.8" x2="943.43" y2="342.5"/><line x1="946.34" y1="332.8" x2="946.34" y2="342.5"/><line x1="949.25" y1="332.8" x2="949.25" y2="342.5"/><line x1="952.16" y1="332.8" x2="952.16" y2="342.5"/><line x1="955.07" y1="332.8" x2="955.07" y2="342.5"/><line x1="957.98" y1="332.8" x2="957.98" y2="342.5"/><line x1="960.89" y1="332.8" x2="960.89" y2="342.5"/><line x1="966.70" y1="332.8" x2="966.70" y2="342.5"/><line x1="969.60" y1="332.8" x2="969.60" y2="342.5"/><line x1="972.50" y1="332.8" x2="972.50" y2="342.5"/><line x1="975.40" y1="332.8" x2="975.40" y2="342.5"/><line x1="978.30" y1="332.8" x2="978.30" y2="342.5"/><line x1="981.20" y1="332.8" x2="981.20" y2="342.5"/><line x1="984.10" y1="332.8" x2="984.10" y2="342.5"/><line x1="987.00" y1="332.8" x2="987.00" y2="342.5"/><line x1="989.90" y1="332.8" x2="989.90" y2="342.5"/><line x1="995.70" y1="332.8" x2="995.70" y2="342.5"/><line x1="998.60" y1="332.8" x2="998.60" y2="342.5"/><line x1="1001.50" y1="332.8" x2="1001.50" y2="342.5"/><line x1="1004.40" y1="332.8" x2="1004.40" y2="342.5"/><line x1="1007.30" y1="332.8" x2="1007.30" y2="342.5"/><line x1="1010.20" y1="332.8" x2="1010.20" y2="342.5"/><line x1="1013.10" y1="332.8" x2="1013.10" y2="342.5"/><line x1="1016.00" y1="332.8" x2="1016.00" y2="342.5"/><line x1="1018.90" y1="332.8" x2="1018.90" y2="342.5"/><line x1="1024.70" y1="332.8" x2="1024.70" y2="342.5"/><line x1="1027.60" y1="332.8" x2="1027.60" y2="342.5"/><line x1="1030.50" y1="332.8" x2="1030.50" y2="342.5"/><line x1="1033.40" y1="332.8" x2="1033.40" y2="342.5"/><line x1="1036.30" y1="332.8" x2="1036.30" y2="342.5"/><line x1="1039.20" y1="332.8" x2="1039.20" y2="342.5"/><line x1="1042.10" y1="332.8" x2="1042.10" y2="342.5"/><line x1="1045.00" y1="332.8" x2="1045.00" y2="342.5"/><line x1="1047.90" y1="332.8" x2="1047.90" y2="342.5"/><line x1="1053.69" y1="332.8" x2="1053.69" y2="342.5"/><line x1="1056.58" y1="332.8" x2="1056.58" y2="342.5"/><line x1="1059.47" y1="332.8" x2="1059.47" y2="342.5"/><line x1="1062.36" y1="332.8" x2="1062.36" y2="342.5"/><line x1="1065.25" y1="332.8" x2="1065.25" y2="342.5"/><line x1="1068.14" y1="332.8" x2="1068.14" y2="342.5"/><line x1="1071.03" y1="332.8" x2="1071.03" y2="342.5"/><line x1="1073.92" y1="332.8" x2="1073.92" y2="342.5"/><line x1="1076.81" y1="332.8" x2="1076.81" y2="342.5"/><line x1="1082.60" y1="332.8" x2="1082.60" y2="342.5"/><line x1="1085.50" y1="332.8" x2="1085.50" y2="342.5"/><line x1="1088.40" y1="332.8" x2="1088.40" y2="342.5"/><line x1="1091.30" y1="332.8" x2="1091.30" y2="342.5"/><line x1="1094.20" y1="332.8" x2="1094.20" y2="342.5"/><line x1="1097.10" y1="332.8" x2="1097.10" y2="342.5"/><line x1="1100.00" y1="332.8" x2="1100.00" y2="342.5"/><line x1="1102.90" y1="332.8" x2="1102.90" y2="342.5"/><line x1="1108.72" y1="332.8" x2="1108.72" y2="342.5"/><line x1="1111.64" y1="332.8" x2="1111.64" y2="342.5"/><line x1="1114.56" y1="332.8" x2="1114.56" y2="342.5"/><line x1="1117.48" y1="332.8" x2="1117.48" y2="342.5"/><line x1="1120.40" y1="332.8" x2="1120.40" y2="342.5"/><line x1="1123.32" y1="332.8" x2="1123.32" y2="342.5"/><line x1="1126.24" y1="332.8" x2="1126.24" y2="342.5"/><line x1="1129.16" y1="332.8" x2="1129.16" y2="342.5"/><line x1="1132.08" y1="332.8" x2="1132.08" y2="342.5"/></g><text x="763.6" y="295.2" font-size="11.5" font-weight="bold" fill="#3d3d3d">MP1000</text><text x="1135" y="305.6" font-size="10.3" fill="#555" text-anchor="end">2.5 m–4.5 m</text><text x="1135" y="318.9" font-size="10.3" fill="#555" text-anchor="end">(8′–15′)</text><path d="M763.5,430.5 C820.4,405.9 852.0,397.7 890.0,397.7 C931.8,397.7 950.2,412.5 945.7,430.5 Z" fill="#36b0e3"/><path d="M763.5,430.5 C800.9,415.6 821.7,410.7 846.7,410.7 C870.0,410.7 879.2,419.6 877.7,430.5 Z" fill="#72c3ee"/><path d="M945.7,431.0 L946.2,423.7 L946.7,425.1 L947.8,424.5 L948.3,425.2 L948.8,423.4 L949.3,426.2 L950.0,425.3 L950.5,425.4 L951.0,423.3 L951.5,425.1 L952.1,424.7 L952.6,425.8 L953.5,422.9 L954.0,425.4 L954.7,424.3 L955.2,426.4 L955.7,421.9 L956.2,425.4 L957.3,425.5 L957.8,425.3 L958.9,423.6 L959.4,425.5 L960.3,424.6 L960.8,426.8 L961.4,425.3 L961.9,426.3 L963.0,422.7 L963.5,425.3 L964.6,424.4 L965.1,425.9 L966.0,422.3 L966.5,426.0 L967.2,422.9 L967.7,425.1 L968.3,422.0 L968.8,427.0 L969.5,424.6 L970.0,425.5 L971.3,422.5 L971.8,426.3 L973.0,424.2 L973.5,426.5 L974.7,423.0 L975.2,425.6 L976.3,421.6 L976.8,426.1 L977.9,422.7 L978.4,425.3 L979.3,422.6 L979.8,425.9 L980.5,424.7 L981.0,425.8 L981.6,421.9 L982.1,426.7 L982.6,425.1 L983.1,425.1 L983.9,424.9 L984.4,426.9 L984.9,422.7 L985.4,425.7 L986.5,422.6 L987.0,426.9 L988.0,424.0 L988.5,425.4 L989.6,421.9 L990.1,426.9 L991.3,421.8 L991.8,425.1 L992.4,424.7 L992.9,426.8 L993.4,422.1 L993.9,425.4 L994.9,422.2 L995.4,425.7 L996.2,425.1 L996.7,426.8 L997.8,424.7 L998.3,426.4 L999.1,425.4 L999.6,426.5 L1000.3,422.6 L1000.8,426.3 L1001.6,421.6 L1002.1,426.0 L1003.3,423.0 L1003.8,426.9 L1004.6,423.8 L1005.1,425.5 L1005.9,422.7 L1006.4,425.9 L1007.0,422.1 L1007.5,426.8 L1008.7,424.8 L1009.2,427.0 L1009.9,422.5 L1010.4,425.0 L1010.9,423.5 L1011.4,426.0 L1012.5,424.8 L1013.0,426.0 L1013.8,422.2 L1014.3,426.5 L1015.5,424.4 L1016.0,426.6 L1017.1,423.5 L1017.6,426.8 L1018.6,425.2 L1019.1,425.4 L1020.2,422.4 L1020.7,425.7 L1021.4,423.9 L1021.9,426.2 L1023.2,425.2 L1023.7,425.2 L1024.2,424.7 L1024.7,426.5 L1025.9,423.5 L1026.4,426.2 L1027.6,424.6 L1028.1,426.1 L1029.0,422.5 L1029.5,425.5 L1030.6,424.1 L1031.1,426.3 L1031.7,422.1 L1032.2,425.7 L1033.3,424.8 L1033.8,426.1 L1034.9,423.2 L1035.4,426.7 L1036.3,422.0 L1036.8,426.5 L1037.4,424.3 L1037.9,425.6 L1039.1,424.9 L1039.6,426.7 L1040.3,424.2 L1040.8,426.0 L1041.4,424.2 L1041.9,426.6 L1043.2,422.6 L1043.7,426.8 L1045.0,425.1 L1045.5,426.2 L1046.8,422.3 L1047.3,425.5 L1048.1,424.7 L1048.6,425.7 L1049.2,424.7 L1049.7,426.2 L1050.2,423.9 L1050.7,425.4 L1051.8,423.5 L1052.3,425.7 L1053.1,424.9 L1053.6,425.8 L1054.5,422.5 L1055.0,425.2 L1055.8,423.2 L1056.3,425.5 L1057.1,424.6 L1057.6,425.6 L1058.8,422.4 L1059.3,425.6 L1060.5,422.8 L1061.0,425.7 L1061.9,424.2 L1062.4,425.7 L1063.0,423.8 L1063.5,425.4 L1064.5,423.0 L1065.0,426.5 L1065.9,423.7 L1066.4,425.8 L1067.2,422.8 L1067.7,425.1 L1068.4,422.9 L1068.9,425.4 L1069.7,423.5 L1070.2,425.1 L1070.7,423.3 L1071.2,426.7 L1072.3,421.7 L1072.8,426.0 L1073.4,423.2 L1073.9,425.9 L1075.0,423.5 L1075.5,425.7 L1076.6,423.4 L1077.1,426.2 L1078.4,424.7 L1078.9,425.6 L1079.7,422.4 L1080.2,426.8 L1081.5,424.1 L1082.0,426.9 L1082.7,423.9 L1083.2,427.0 L1084.1,423.8 L1084.6,425.6 L1085.3,424.4 L1085.8,426.6 L1086.9,421.7 L1087.4,425.9 L1088.1,422.3 L1088.6,426.2 L1089.3,425.0 L1089.8,425.4 L1090.9,423.0 L1091.4,426.1 L1092.4,424.6 L1092.9,425.1 L1093.7,422.9 L1094.2,425.4 L1095.3,423.6 L1095.8,426.4 L1096.7,425.0 L1097.2,425.3 L1098.0,422.1 L1098.5,426.5 L1099.3,424.5 L1099.8,426.1 L1100.5,425.5 L1101.0,425.6 L1101.7,424.5 L1102.2,426.4 L1103.1,423.8 L1103.6,425.7 L1104.6,424.1 L1105.1,425.1 L1106.3,425.3 L1106.8,425.3 L1108.0,422.4 L1108.5,426.7 L1109.7,423.0 L1110.2,427.0 L1110.7,421.7 L1111.2,425.7 L1111.9,425.1 L1112.4,426.7 L1113.1,422.4 L1113.6,426.3 L1114.2,421.9 L1114.7,425.4 L1115.3,421.9 L1115.8,425.8 L1117.0,422.8 L1117.5,425.2 L1118.6,422.1 L1119.1,426.6 L1120.1,423.4 L1120.6,425.5 L1121.5,422.0 L1122.0,425.9 L1122.7,424.6 L1123.2,426.7 L1124.1,425.3 L1124.6,426.1 L1125.2,423.5 L1125.7,426.0 L1126.7,422.0 L1127.2,427.0 L1128.3,423.6 L1128.8,425.9 L1129.9,422.1 L1130.4,426.3 L1131.2,421.7 L1131.7,426.8 L1132.7,423.0 L1133.2,426.9 L1134.2,422.8 L1134.7,425.1 L1135.5,421.6 L1136.0,426.0 L1135.5,424.5 L1135.5,431.0 Z" fill="url(#grassg)"/><g stroke="#737373" stroke-width="1.45"><line x1="763.70" y1="431.0" x2="763.70" y2="446.7" stroke-width="1.5"/><line x1="790.00" y1="431.0" x2="790.00" y2="446.7" stroke-width="1.5"/><line x1="818.80" y1="431.0" x2="818.80" y2="446.7" stroke-width="1.5"/><line x1="847.80" y1="431.0" x2="847.80" y2="446.7" stroke-width="1.5"/><line x1="877.00" y1="431.0" x2="877.00" y2="446.7" stroke-width="1.5"/><line x1="905.80" y1="431.0" x2="905.80" y2="446.7" stroke-width="1.5"/><line x1="934.70" y1="431.0" x2="934.70" y2="446.7" stroke-width="1.5"/><line x1="963.80" y1="431.0" x2="963.80" y2="446.7" stroke-width="1.5"/><line x1="992.80" y1="431.0" x2="992.80" y2="446.7" stroke-width="1.5"/><line x1="1021.80" y1="431.0" x2="1021.80" y2="446.7" stroke-width="1.5"/><line x1="1050.80" y1="431.0" x2="1050.80" y2="446.7" stroke-width="1.5"/><line x1="1079.70" y1="431.0" x2="1079.70" y2="446.7" stroke-width="1.5"/><line x1="1105.80" y1="431.0" x2="1105.80" y2="446.7" stroke-width="1.5"/><line x1="1135.00" y1="431.0" x2="1135.00" y2="446.7" stroke-width="1.5"/><line x1="766.62" y1="431.0" x2="766.62" y2="440.7"/><line x1="769.54" y1="431.0" x2="769.54" y2="440.7"/><line x1="772.47" y1="431.0" x2="772.47" y2="440.7"/><line x1="775.39" y1="431.0" x2="775.39" y2="440.7"/><line x1="778.31" y1="431.0" x2="778.31" y2="440.7"/><line x1="781.23" y1="431.0" x2="781.23" y2="440.7"/><line x1="784.16" y1="431.0" x2="784.16" y2="440.7"/><line x1="787.08" y1="431.0" x2="787.08" y2="440.7"/><line x1="792.88" y1="431.0" x2="792.88" y2="440.7"/><line x1="795.76" y1="431.0" x2="795.76" y2="440.7"/><line x1="798.64" y1="431.0" x2="798.64" y2="440.7"/><line x1="801.52" y1="431.0" x2="801.52" y2="440.7"/><line x1="804.40" y1="431.0" x2="804.40" y2="440.7"/><line x1="807.28" y1="431.0" x2="807.28" y2="440.7"/><line x1="810.16" y1="431.0" x2="810.16" y2="440.7"/><line x1="813.04" y1="431.0" x2="813.04" y2="440.7"/><line x1="815.92" y1="431.0" x2="815.92" y2="440.7"/><line x1="821.70" y1="431.0" x2="821.70" y2="440.7"/><line x1="824.60" y1="431.0" x2="824.60" y2="440.7"/><line x1="827.50" y1="431.0" x2="827.50" y2="440.7"/><line x1="830.40" y1="431.0" x2="830.40" y2="440.7"/><line x1="833.30" y1="431.0" x2="833.30" y2="440.7"/><line x1="836.20" y1="431.0" x2="836.20" y2="440.7"/><line x1="839.10" y1="431.0" x2="839.10" y2="440.7"/><line x1="842.00" y1="431.0" x2="842.00" y2="440.7"/><line x1="844.90" y1="431.0" x2="844.90" y2="440.7"/><line x1="850.72" y1="431.0" x2="850.72" y2="440.7"/><line x1="853.64" y1="431.0" x2="853.64" y2="440.7"/><line x1="856.56" y1="431.0" x2="856.56" y2="440.7"/><line x1="859.48" y1="431.0" x2="859.48" y2="440.7"/><line x1="862.40" y1="431.0" x2="862.40" y2="440.7"/><line x1="865.32" y1="431.0" x2="865.32" y2="440.7"/><line x1="868.24" y1="431.0" x2="868.24" y2="440.7"/><line x1="871.16" y1="431.0" x2="871.16" y2="440.7"/><line x1="874.08" y1="431.0" x2="874.08" y2="440.7"/><line x1="879.88" y1="431.0" x2="879.88" y2="440.7"/><line x1="882.76" y1="431.0" x2="882.76" y2="440.7"/><line x1="885.64" y1="431.0" x2="885.64" y2="440.7"/><line x1="888.52" y1="431.0" x2="888.52" y2="440.7"/><line x1="891.40" y1="431.0" x2="891.40" y2="440.7"/><line x1="894.28" y1="431.0" x2="894.28" y2="440.7"/><line x1="897.16" y1="431.0" x2="897.16" y2="440.7"/><line x1="900.04" y1="431.0" x2="900.04" y2="440.7"/><line x1="902.92" y1="431.0" x2="902.92" y2="440.7"/><line x1="908.69" y1="431.0" x2="908.69" y2="440.7"/><line x1="911.58" y1="431.0" x2="911.58" y2="440.7"/><line x1="914.47" y1="431.0" x2="914.47" y2="440.7"/><line x1="917.36" y1="431.0" x2="917.36" y2="440.7"/><line x1="920.25" y1="431.0" x2="920.25" y2="440.7"/><line x1="923.14" y1="431.0" x2="923.14" y2="440.7"/><line x1="926.03" y1="431.0" x2="926.03" y2="440.7"/><line x1="928.92" y1="431.0" x2="928.92" y2="440.7"/><line x1="931.81" y1="431.0" x2="931.81" y2="440.7"/><line x1="937.61" y1="431.0" x2="937.61" y2="440.7"/><line x1="940.52" y1="431.0" x2="940.52" y2="440.7"/><line x1="943.43" y1="431.0" x2="943.43" y2="440.7"/><line x1="946.34" y1="431.0" x2="946.34" y2="440.7"/><line x1="949.25" y1="431.0" x2="949.25" y2="440.7"/><line x1="952.16" y1="431.0" x2="952.16" y2="440.7"/><line x1="955.07" y1="431.0" x2="955.07" y2="440.7"/><line x1="957.98" y1="431.0" x2="957.98" y2="440.7"/><line x1="960.89" y1="431.0" x2="960.89" y2="440.7"/><line x1="966.70" y1="431.0" x2="966.70" y2="440.7"/><line x1="969.60" y1="431.0" x2="969.60" y2="440.7"/><line x1="972.50" y1="431.0" x2="972.50" y2="440.7"/><line x1="975.40" y1="431.0" x2="975.40" y2="440.7"/><line x1="978.30" y1="431.0" x2="978.30" y2="440.7"/><line x1="981.20" y1="431.0" x2="981.20" y2="440.7"/><line x1="984.10" y1="431.0" x2="984.10" y2="440.7"/><line x1="987.00" y1="431.0" x2="987.00" y2="440.7"/><line x1="989.90" y1="431.0" x2="989.90" y2="440.7"/><line x1="995.70" y1="431.0" x2="995.70" y2="440.7"/><line x1="998.60" y1="431.0" x2="998.60" y2="440.7"/><line x1="1001.50" y1="431.0" x2="1001.50" y2="440.7"/><line x1="1004.40" y1="431.0" x2="1004.40" y2="440.7"/><line x1="1007.30" y1="431.0" x2="1007.30" y2="440.7"/><line x1="1010.20" y1="431.0" x2="1010.20" y2="440.7"/><line x1="1013.10" y1="431.0" x2="1013.10" y2="440.7"/><line x1="1016.00" y1="431.0" x2="1016.00" y2="440.7"/><line x1="1018.90" y1="431.0" x2="1018.90" y2="440.7"/><line x1="1024.70" y1="431.0" x2="1024.70" y2="440.7"/><line x1="1027.60" y1="431.0" x2="1027.60" y2="440.7"/><line x1="1030.50" y1="431.0" x2="1030.50" y2="440.7"/><line x1="1033.40" y1="431.0" x2="1033.40" y2="440.7"/><line x1="1036.30" y1="431.0" x2="1036.30" y2="440.7"/><line x1="1039.20" y1="431.0" x2="1039.20" y2="440.7"/><line x1="1042.10" y1="431.0" x2="1042.10" y2="440.7"/><line x1="1045.00" y1="431.0" x2="1045.00" y2="440.7"/><line x1="1047.90" y1="431.0" x2="1047.90" y2="440.7"/><line x1="1053.69" y1="431.0" x2="1053.69" y2="440.7"/><line x1="1056.58" y1="431.0" x2="1056.58" y2="440.7"/><line x1="1059.47" y1="431.0" x2="1059.47" y2="440.7"/><line x1="1062.36" y1="431.0" x2="1062.36" y2="440.7"/><line x1="1065.25" y1="431.0" x2="1065.25" y2="440.7"/><line x1="1068.14" y1="431.0" x2="1068.14" y2="440.7"/><line x1="1071.03" y1="431.0" x2="1071.03" y2="440.7"/><line x1="1073.92" y1="431.0" x2="1073.92" y2="440.7"/><line x1="1076.81" y1="431.0" x2="1076.81" y2="440.7"/><line x1="1082.60" y1="431.0" x2="1082.60" y2="440.7"/><line x1="1085.50" y1="431.0" x2="1085.50" y2="440.7"/><line x1="1088.40" y1="431.0" x2="1088.40" y2="440.7"/><line x1="1091.30" y1="431.0" x2="1091.30" y2="440.7"/><line x1="1094.20" y1="431.0" x2="1094.20" y2="440.7"/><line x1="1097.10" y1="431.0" x2="1097.10" y2="440.7"/><line x1="1100.00" y1="431.0" x2="1100.00" y2="440.7"/><line x1="1102.90" y1="431.0" x2="1102.90" y2="440.7"/><line x1="1108.72" y1="431.0" x2="1108.72" y2="440.7"/><line x1="1111.64" y1="431.0" x2="1111.64" y2="440.7"/><line x1="1114.56" y1="431.0" x2="1114.56" y2="440.7"/><line x1="1117.48" y1="431.0" x2="1117.48" y2="440.7"/><line x1="1120.40" y1="431.0" x2="1120.40" y2="440.7"/><line x1="1123.32" y1="431.0" x2="1123.32" y2="440.7"/><line x1="1126.24" y1="431.0" x2="1126.24" y2="440.7"/><line x1="1129.16" y1="431.0" x2="1129.16" y2="440.7"/><line x1="1132.08" y1="431.0" x2="1132.08" y2="440.7"/></g><text x="763.6" y="386.7" font-size="11.5" font-weight="bold" fill="#3d3d3d">MP2000</text><text x="1135" y="402.8" font-size="10.3" fill="#555" text-anchor="end">4 m–6.4 m</text><text x="1135" y="416.6" font-size="10.3" fill="#555" text-anchor="end">(13′–21′)</text><path d="M763.5,523.5 C845.9,480.6 891.7,466.3 946.7,466.3 C1007.5,466.3 1034.2,492.0 1027.7,523.5 Z" fill="#36b0e3"/><path d="M763.5,523.5 C820.4,492.4 852.0,482.0 890.0,482.0 C938.8,482.0 958.2,500.7 955.0,523.5 Z" fill="#72c3ee"/><path d="M1027.7,524.0 L1028.2,514.9 L1028.7,519.9 L1029.8,516.0 L1030.3,519.3 L1031.5,517.0 L1032.0,519.1 L1032.9,515.4 L1033.4,519.6 L1034.2,516.8 L1034.7,518.9 L1035.9,517.3 L1036.4,518.3 L1037.2,516.5 L1037.7,519.5 L1038.6,514.6 L1039.1,518.7 L1040.3,517.2 L1040.8,519.4 L1041.5,516.2 L1042.0,518.7 L1043.1,518.3 L1043.6,518.6 L1044.8,516.3 L1045.3,519.9 L1046.1,518.5 L1046.6,519.6 L1047.8,516.1 L1048.3,518.7 L1049.4,514.9 L1049.9,518.8 L1050.9,516.0 L1051.4,518.6 L1052.4,515.8 L1052.9,519.6 L1053.9,516.7 L1054.4,518.5 L1055.0,517.8 L1055.5,519.9 L1056.6,514.8 L1057.1,518.7 L1057.9,515.2 L1058.4,518.4 L1059.4,517.5 L1059.9,519.4 L1060.7,517.2 L1061.2,519.1 L1062.2,514.8 L1062.7,519.9 L1063.7,518.3 L1064.2,519.8 L1065.3,516.2 L1065.8,518.2 L1066.7,518.4 L1067.2,519.2 L1068.2,514.7 L1068.7,518.0 L1069.6,516.9 L1070.1,519.8 L1071.1,517.7 L1071.6,519.7 L1072.1,518.5 L1072.6,518.6 L1073.2,514.6 L1073.7,519.8 L1074.9,518.0 L1075.4,520.0 L1076.4,517.5 L1076.9,518.5 L1077.6,518.3 L1078.1,518.5 L1079.2,515.1 L1079.7,518.5 L1080.2,516.0 L1080.7,518.6 L1081.6,514.8 L1082.1,519.5 L1083.4,515.6 L1083.9,520.0 L1084.4,515.9 L1084.9,518.4 L1085.5,517.3 L1086.0,518.5 L1086.6,515.1 L1087.1,519.0 L1087.6,517.0 L1088.1,518.9 L1089.0,515.8 L1089.5,519.7 L1090.6,517.0 L1091.1,518.7 L1092.1,516.8 L1092.6,519.2 L1093.8,514.7 L1094.3,518.4 L1095.2,517.3 L1095.7,519.9 L1097.0,515.7 L1097.5,518.3 L1098.3,516.1 L1098.8,518.0 L1099.9,516.1 L1100.4,519.4 L1101.3,514.9 L1101.8,519.2 L1102.8,516.1 L1103.3,518.2 L1104.5,517.4 L1105.0,520.0 L1105.7,516.8 L1106.2,518.8 L1107.3,515.0 L1107.8,519.9 L1109.0,515.3 L1109.5,518.3 L1110.4,517.4 L1110.9,518.3 L1112.1,515.8 L1112.6,518.2 L1113.4,518.2 L1113.9,518.9 L1115.0,517.7 L1115.5,518.5 L1116.7,517.6 L1117.2,518.8 L1118.3,516.6 L1118.8,519.6 L1119.5,515.5 L1120.0,518.4 L1120.9,518.1 L1121.4,518.4 L1122.5,517.6 L1123.0,518.8 L1124.2,515.0 L1124.7,519.0 L1125.6,516.1 L1126.1,519.6 L1126.7,517.8 L1127.2,518.6 L1128.0,516.2 L1128.5,519.2 L1129.4,517.9 L1129.9,519.9 L1131.2,517.0 L1131.7,519.8 L1132.7,515.4 L1133.2,519.7 L1134.2,517.1 L1134.7,519.0 L1135.2,518.4 L1135.7,518.0 L1135.5,517.5 L1135.5,524.0 Z" fill="url(#grassg)"/><g stroke="#737373" stroke-width="1.45"><line x1="763.70" y1="524.0" x2="763.70" y2="539.7" stroke-width="1.5"/><line x1="790.00" y1="524.0" x2="790.00" y2="539.7" stroke-width="1.5"/><line x1="818.80" y1="524.0" x2="818.80" y2="539.7" stroke-width="1.5"/><line x1="847.80" y1="524.0" x2="847.80" y2="539.7" stroke-width="1.5"/><line x1="877.00" y1="524.0" x2="877.00" y2="539.7" stroke-width="1.5"/><line x1="905.80" y1="524.0" x2="905.80" y2="539.7" stroke-width="1.5"/><line x1="934.70" y1="524.0" x2="934.70" y2="539.7" stroke-width="1.5"/><line x1="963.80" y1="524.0" x2="963.80" y2="539.7" stroke-width="1.5"/><line x1="992.80" y1="524.0" x2="992.80" y2="539.7" stroke-width="1.5"/><line x1="1021.80" y1="524.0" x2="1021.80" y2="539.7" stroke-width="1.5"/><line x1="1050.80" y1="524.0" x2="1050.80" y2="539.7" stroke-width="1.5"/><line x1="1079.70" y1="524.0" x2="1079.70" y2="539.7" stroke-width="1.5"/><line x1="1105.80" y1="524.0" x2="1105.80" y2="539.7" stroke-width="1.5"/><line x1="1135.00" y1="524.0" x2="1135.00" y2="539.7" stroke-width="1.5"/><line x1="766.62" y1="524.0" x2="766.62" y2="533.7"/><line x1="769.54" y1="524.0" x2="769.54" y2="533.7"/><line x1="772.47" y1="524.0" x2="772.47" y2="533.7"/><line x1="775.39" y1="524.0" x2="775.39" y2="533.7"/><line x1="778.31" y1="524.0" x2="778.31" y2="533.7"/><line x1="781.23" y1="524.0" x2="781.23" y2="533.7"/><line x1="784.16" y1="524.0" x2="784.16" y2="533.7"/><line x1="787.08" y1="524.0" x2="787.08" y2="533.7"/><line x1="792.88" y1="524.0" x2="792.88" y2="533.7"/><line x1="795.76" y1="524.0" x2="795.76" y2="533.7"/><line x1="798.64" y1="524.0" x2="798.64" y2="533.7"/><line x1="801.52" y1="524.0" x2="801.52" y2="533.7"/><line x1="804.40" y1="524.0" x2="804.40" y2="533.7"/><line x1="807.28" y1="524.0" x2="807.28" y2="533.7"/><line x1="810.16" y1="524.0" x2="810.16" y2="533.7"/><line x1="813.04" y1="524.0" x2="813.04" y2="533.7"/><line x1="815.92" y1="524.0" x2="815.92" y2="533.7"/><line x1="821.70" y1="524.0" x2="821.70" y2="533.7"/><line x1="824.60" y1="524.0" x2="824.60" y2="533.7"/><line x1="827.50" y1="524.0" x2="827.50" y2="533.7"/><line x1="830.40" y1="524.0" x2="830.40" y2="533.7"/><line x1="833.30" y1="524.0" x2="833.30" y2="533.7"/><line x1="836.20" y1="524.0" x2="836.20" y2="533.7"/><line x1="839.10" y1="524.0" x2="839.10" y2="533.7"/><line x1="842.00" y1="524.0" x2="842.00" y2="533.7"/><line x1="844.90" y1="524.0" x2="844.90" y2="533.7"/><line x1="850.72" y1="524.0" x2="850.72" y2="533.7"/><line x1="853.64" y1="524.0" x2="853.64" y2="533.7"/><line x1="856.56" y1="524.0" x2="856.56" y2="533.7"/><line x1="859.48" y1="524.0" x2="859.48" y2="533.7"/><line x1="862.40" y1="524.0" x2="862.40" y2="533.7"/><line x1="865.32" y1="524.0" x2="865.32" y2="533.7"/><line x1="868.24" y1="524.0" x2="868.24" y2="533.7"/><line x1="871.16" y1="524.0" x2="871.16" y2="533.7"/><line x1="874.08" y1="524.0" x2="874.08" y2="533.7"/><line x1="879.88" y1="524.0" x2="879.88" y2="533.7"/><line x1="882.76" y1="524.0" x2="882.76" y2="533.7"/><line x1="885.64" y1="524.0" x2="885.64" y2="533.7"/><line x1="888.52" y1="524.0" x2="888.52" y2="533.7"/><line x1="891.40" y1="524.0" x2="891.40" y2="533.7"/><line x1="894.28" y1="524.0" x2="894.28" y2="533.7"/><line x1="897.16" y1="524.0" x2="897.16" y2="533.7"/><line x1="900.04" y1="524.0" x2="900.04" y2="533.7"/><line x1="902.92" y1="524.0" x2="902.92" y2="533.7"/><line x1="908.69" y1="524.0" x2="908.69" y2="533.7"/><line x1="911.58" y1="524.0" x2="911.58" y2="533.7"/><line x1="914.47" y1="524.0" x2="914.47" y2="533.7"/><line x1="917.36" y1="524.0" x2="917.36" y2="533.7"/><line x1="920.25" y1="524.0" x2="920.25" y2="533.7"/><line x1="923.14" y1="524.0" x2="923.14" y2="533.7"/><line x1="926.03" y1="524.0" x2="926.03" y2="533.7"/><line x1="928.92" y1="524.0" x2="928.92" y2="533.7"/><line x1="931.81" y1="524.0" x2="931.81" y2="533.7"/><line x1="937.61" y1="524.0" x2="937.61" y2="533.7"/><line x1="940.52" y1="524.0" x2="940.52" y2="533.7"/><line x1="943.43" y1="524.0" x2="943.43" y2="533.7"/><line x1="946.34" y1="524.0" x2="946.34" y2="533.7"/><line x1="949.25" y1="524.0" x2="949.25" y2="533.7"/><line x1="952.16" y1="524.0" x2="952.16" y2="533.7"/><line x1="955.07" y1="524.0" x2="955.07" y2="533.7"/><line x1="957.98" y1="524.0" x2="957.98" y2="533.7"/><line x1="960.89" y1="524.0" x2="960.89" y2="533.7"/><line x1="966.70" y1="524.0" x2="966.70" y2="533.7"/><line x1="969.60" y1="524.0" x2="969.60" y2="533.7"/><line x1="972.50" y1="524.0" x2="972.50" y2="533.7"/><line x1="975.40" y1="524.0" x2="975.40" y2="533.7"/><line x1="978.30" y1="524.0" x2="978.30" y2="533.7"/><line x1="981.20" y1="524.0" x2="981.20" y2="533.7"/><line x1="984.10" y1="524.0" x2="984.10" y2="533.7"/><line x1="987.00" y1="524.0" x2="987.00" y2="533.7"/><line x1="989.90" y1="524.0" x2="989.90" y2="533.7"/><line x1="995.70" y1="524.0" x2="995.70" y2="533.7"/><line x1="998.60" y1="524.0" x2="998.60" y2="533.7"/><line x1="1001.50" y1="524.0" x2="1001.50" y2="533.7"/><line x1="1004.40" y1="524.0" x2="1004.40" y2="533.7"/><line x1="1007.30" y1="524.0" x2="1007.30" y2="533.7"/><line x1="1010.20" y1="524.0" x2="1010.20" y2="533.7"/><line x1="1013.10" y1="524.0" x2="1013.10" y2="533.7"/><line x1="1016.00" y1="524.0" x2="1016.00" y2="533.7"/><line x1="1018.90" y1="524.0" x2="1018.90" y2="533.7"/><line x1="1024.70" y1="524.0" x2="1024.70" y2="533.7"/><line x1="1027.60" y1="524.0" x2="1027.60" y2="533.7"/><line x1="1030.50" y1="524.0" x2="1030.50" y2="533.7"/><line x1="1033.40" y1="524.0" x2="1033.40" y2="533.7"/><line x1="1036.30" y1="524.0" x2="1036.30" y2="533.7"/><line x1="1039.20" y1="524.0" x2="1039.20" y2="533.7"/><line x1="1042.10" y1="524.0" x2="1042.10" y2="533.7"/><line x1="1045.00" y1="524.0" x2="1045.00" y2="533.7"/><line x1="1047.90" y1="524.0" x2="1047.90" y2="533.7"/><line x1="1053.69" y1="524.0" x2="1053.69" y2="533.7"/><line x1="1056.58" y1="524.0" x2="1056.58" y2="533.7"/><line x1="1059.47" y1="524.0" x2="1059.47" y2="533.7"/><line x1="1062.36" y1="524.0" x2="1062.36" y2="533.7"/><line x1="1065.25" y1="524.0" x2="1065.25" y2="533.7"/><line x1="1068.14" y1="524.0" x2="1068.14" y2="533.7"/><line x1="1071.03" y1="524.0" x2="1071.03" y2="533.7"/><line x1="1073.92" y1="524.0" x2="1073.92" y2="533.7"/><line x1="1076.81" y1="524.0" x2="1076.81" y2="533.7"/><line x1="1082.60" y1="524.0" x2="1082.60" y2="533.7"/><line x1="1085.50" y1="524.0" x2="1085.50" y2="533.7"/><line x1="1088.40" y1="524.0" x2="1088.40" y2="533.7"/><line x1="1091.30" y1="524.0" x2="1091.30" y2="533.7"/><line x1="1094.20" y1="524.0" x2="1094.20" y2="533.7"/><line x1="1097.10" y1="524.0" x2="1097.10" y2="533.7"/><line x1="1100.00" y1="524.0" x2="1100.00" y2="533.7"/><line x1="1102.90" y1="524.0" x2="1102.90" y2="533.7"/><line x1="1108.72" y1="524.0" x2="1108.72" y2="533.7"/><line x1="1111.64" y1="524.0" x2="1111.64" y2="533.7"/><line x1="1114.56" y1="524.0" x2="1114.56" y2="533.7"/><line x1="1117.48" y1="524.0" x2="1117.48" y2="533.7"/><line x1="1120.40" y1="524.0" x2="1120.40" y2="533.7"/><line x1="1123.32" y1="524.0" x2="1123.32" y2="533.7"/><line x1="1126.24" y1="524.0" x2="1126.24" y2="533.7"/><line x1="1129.16" y1="524.0" x2="1129.16" y2="533.7"/><line x1="1132.08" y1="524.0" x2="1132.08" y2="533.7"/></g><text x="763.6" y="477" font-size="11.5" font-weight="bold" fill="#3d3d3d">MP3000</text><text x="1135" y="496.6" font-size="10.3" fill="#555" text-anchor="end">6.7 m–9.1 m</text><text x="1135" y="510.5" font-size="10.3" fill="#555" text-anchor="end">(22′–30′)</text><path d="M763.5,622.5 C854.9,577.7 905.7,562.7 966.7,562.7 C1044.9,562.7 1079.3,589.6 1071.0,622.5 Z" fill="#36b0e3"/><path d="M763.5,622.5 C854.9,587.6 905.7,576.0 966.7,576.0 C1032.5,576.0 1058.9,596.9 1054.5,622.5 Z" fill="#72c3ee"/><path d="M1071.0,623.0 L1071.5,615.6 L1072.0,617.9 L1072.7,614.4 L1073.2,618.1 L1074.5,614.4 L1075.0,617.4 L1076.2,616.5 L1076.7,618.9 L1077.4,616.8 L1077.9,618.8 L1078.4,615.3 L1078.9,617.3 L1079.8,613.7 L1080.3,617.2 L1080.9,615.1 L1081.4,618.2 L1082.0,613.7 L1082.5,618.5 L1083.4,614.9 L1083.9,617.1 L1084.9,615.9 L1085.4,618.1 L1086.1,613.6 L1086.6,617.0 L1087.2,617.3 L1087.7,618.5 L1088.5,613.9 L1089.0,617.2 L1090.2,617.3 L1090.7,617.4 L1091.8,614.9 L1092.3,617.0 L1092.8,616.9 L1093.3,617.5 L1094.6,614.8 L1095.1,618.4 L1096.0,614.5 L1096.5,618.8 L1097.3,616.5 L1097.8,618.8 L1098.7,616.8 L1099.2,618.5 L1099.8,614.8 L1100.3,619.0 L1101.4,616.7 L1101.9,618.9 L1103.1,616.6 L1103.6,617.1 L1104.8,613.9 L1105.3,618.7 L1106.2,617.1 L1106.7,617.1 L1107.8,615.0 L1108.3,618.1 L1109.1,614.2 L1109.6,618.0 L1110.6,616.9 L1111.1,618.6 L1111.7,614.6 L1112.2,617.9 L1112.8,614.0 L1113.3,618.5 L1114.1,616.9 L1114.6,618.5 L1115.8,616.2 L1116.3,618.7 L1117.2,616.2 L1117.7,617.2 L1118.3,613.6 L1118.8,618.9 L1120.0,614.8 L1120.5,618.6 L1121.4,616.4 L1121.9,618.5 L1122.5,616.0 L1123.0,617.0 L1124.3,613.8 L1124.8,618.8 L1125.5,613.9 L1126.0,618.9 L1127.1,616.3 L1127.6,617.0 L1128.1,614.3 L1128.6,618.3 L1129.2,617.5 L1129.7,617.3 L1130.7,616.8 L1131.2,618.1 L1132.4,616.6 L1132.9,617.9 L1133.5,616.8 L1134.0,617.5 L1135.1,616.7 L1135.6,618.8 L1135.5,616.5 L1135.5,623.0 Z" fill="url(#grassg)"/><g stroke="#737373" stroke-width="1.45"><line x1="763.70" y1="623.0" x2="763.70" y2="638.7" stroke-width="1.5"/><line x1="790.00" y1="623.0" x2="790.00" y2="638.7" stroke-width="1.5"/><line x1="818.80" y1="623.0" x2="818.80" y2="638.7" stroke-width="1.5"/><line x1="847.80" y1="623.0" x2="847.80" y2="638.7" stroke-width="1.5"/><line x1="877.00" y1="623.0" x2="877.00" y2="638.7" stroke-width="1.5"/><line x1="905.80" y1="623.0" x2="905.80" y2="638.7" stroke-width="1.5"/><line x1="934.70" y1="623.0" x2="934.70" y2="638.7" stroke-width="1.5"/><line x1="963.80" y1="623.0" x2="963.80" y2="638.7" stroke-width="1.5"/><line x1="992.80" y1="623.0" x2="992.80" y2="638.7" stroke-width="1.5"/><line x1="1021.80" y1="623.0" x2="1021.80" y2="638.7" stroke-width="1.5"/><line x1="1050.80" y1="623.0" x2="1050.80" y2="638.7" stroke-width="1.5"/><line x1="1079.70" y1="623.0" x2="1079.70" y2="638.7" stroke-width="1.5"/><line x1="1105.80" y1="623.0" x2="1105.80" y2="638.7" stroke-width="1.5"/><line x1="1135.00" y1="623.0" x2="1135.00" y2="638.7" stroke-width="1.5"/><line x1="766.62" y1="623.0" x2="766.62" y2="632.7"/><line x1="769.54" y1="623.0" x2="769.54" y2="632.7"/><line x1="772.47" y1="623.0" x2="772.47" y2="632.7"/><line x1="775.39" y1="623.0" x2="775.39" y2="632.7"/><line x1="778.31" y1="623.0" x2="778.31" y2="632.7"/><line x1="781.23" y1="623.0" x2="781.23" y2="632.7"/><line x1="784.16" y1="623.0" x2="784.16" y2="632.7"/><line x1="787.08" y1="623.0" x2="787.08" y2="632.7"/><line x1="792.88" y1="623.0" x2="792.88" y2="632.7"/><line x1="795.76" y1="623.0" x2="795.76" y2="632.7"/><line x1="798.64" y1="623.0" x2="798.64" y2="632.7"/><line x1="801.52" y1="623.0" x2="801.52" y2="632.7"/><line x1="804.40" y1="623.0" x2="804.40" y2="632.7"/><line x1="807.28" y1="623.0" x2="807.28" y2="632.7"/><line x1="810.16" y1="623.0" x2="810.16" y2="632.7"/><line x1="813.04" y1="623.0" x2="813.04" y2="632.7"/><line x1="815.92" y1="623.0" x2="815.92" y2="632.7"/><line x1="821.70" y1="623.0" x2="821.70" y2="632.7"/><line x1="824.60" y1="623.0" x2="824.60" y2="632.7"/><line x1="827.50" y1="623.0" x2="827.50" y2="632.7"/><line x1="830.40" y1="623.0" x2="830.40" y2="632.7"/><line x1="833.30" y1="623.0" x2="833.30" y2="632.7"/><line x1="836.20" y1="623.0" x2="836.20" y2="632.7"/><line x1="839.10" y1="623.0" x2="839.10" y2="632.7"/><line x1="842.00" y1="623.0" x2="842.00" y2="632.7"/><line x1="844.90" y1="623.0" x2="844.90" y2="632.7"/><line x1="850.72" y1="623.0" x2="850.72" y2="632.7"/><line x1="853.64" y1="623.0" x2="853.64" y2="632.7"/><line x1="856.56" y1="623.0" x2="856.56" y2="632.7"/><line x1="859.48" y1="623.0" x2="859.48" y2="632.7"/><line x1="862.40" y1="623.0" x2="862.40" y2="632.7"/><line x1="865.32" y1="623.0" x2="865.32" y2="632.7"/><line x1="868.24" y1="623.0" x2="868.24" y2="632.7"/><line x1="871.16" y1="623.0" x2="871.16" y2="632.7"/><line x1="874.08" y1="623.0" x2="874.08" y2="632.7"/><line x1="879.88" y1="623.0" x2="879.88" y2="632.7"/><line x1="882.76" y1="623.0" x2="882.76" y2="632.7"/><line x1="885.64" y1="623.0" x2="885.64" y2="632.7"/><line x1="888.52" y1="623.0" x2="888.52" y2="632.7"/><line x1="891.40" y1="623.0" x2="891.40" y2="632.7"/><line x1="894.28" y1="623.0" x2="894.28" y2="632.7"/><line x1="897.16" y1="623.0" x2="897.16" y2="632.7"/><line x1="900.04" y1="623.0" x2="900.04" y2="632.7"/><line x1="902.92" y1="623.0" x2="902.92" y2="632.7"/><line x1="908.69" y1="623.0" x2="908.69" y2="632.7"/><line x1="911.58" y1="623.0" x2="911.58" y2="632.7"/><line x1="914.47" y1="623.0" x2="914.47" y2="632.7"/><line x1="917.36" y1="623.0" x2="917.36" y2="632.7"/><line x1="920.25" y1="623.0" x2="920.25" y2="632.7"/><line x1="923.14" y1="623.0" x2="923.14" y2="632.7"/><line x1="926.03" y1="623.0" x2="926.03" y2="632.7"/><line x1="928.92" y1="623.0" x2="928.92" y2="632.7"/><line x1="931.81" y1="623.0" x2="931.81" y2="632.7"/><line x1="937.61" y1="623.0" x2="937.61" y2="632.7"/><line x1="940.52" y1="623.0" x2="940.52" y2="632.7"/><line x1="943.43" y1="623.0" x2="943.43" y2="632.7"/><line x1="946.34" y1="623.0" x2="946.34" y2="632.7"/><line x1="949.25" y1="623.0" x2="949.25" y2="632.7"/><line x1="952.16" y1="623.0" x2="952.16" y2="632.7"/><line x1="955.07" y1="623.0" x2="955.07" y2="632.7"/><line x1="957.98" y1="623.0" x2="957.98" y2="632.7"/><line x1="960.89" y1="623.0" x2="960.89" y2="632.7"/><line x1="966.70" y1="623.0" x2="966.70" y2="632.7"/><line x1="969.60" y1="623.0" x2="969.60" y2="632.7"/><line x1="972.50" y1="623.0" x2="972.50" y2="632.7"/><line x1="975.40" y1="623.0" x2="975.40" y2="632.7"/><line x1="978.30" y1="623.0" x2="978.30" y2="632.7"/><line x1="981.20" y1="623.0" x2="981.20" y2="632.7"/><line x1="984.10" y1="623.0" x2="984.10" y2="632.7"/><line x1="987.00" y1="623.0" x2="987.00" y2="632.7"/><line x1="989.90" y1="623.0" x2="989.90" y2="632.7"/><line x1="995.70" y1="623.0" x2="995.70" y2="632.7"/><line x1="998.60" y1="623.0" x2="998.60" y2="632.7"/><line x1="1001.50" y1="623.0" x2="1001.50" y2="632.7"/><line x1="1004.40" y1="623.0" x2="1004.40" y2="632.7"/><line x1="1007.30" y1="623.0" x2="1007.30" y2="632.7"/><line x1="1010.20" y1="623.0" x2="1010.20" y2="632.7"/><line x1="1013.10" y1="623.0" x2="1013.10" y2="632.7"/><line x1="1016.00" y1="623.0" x2="1016.00" y2="632.7"/><line x1="1018.90" y1="623.0" x2="1018.90" y2="632.7"/><line x1="1024.70" y1="623.0" x2="1024.70" y2="632.7"/><line x1="1027.60" y1="623.0" x2="1027.60" y2="632.7"/><line x1="1030.50" y1="623.0" x2="1030.50" y2="632.7"/><line x1="1033.40" y1="623.0" x2="1033.40" y2="632.7"/><line x1="1036.30" y1="623.0" x2="1036.30" y2="632.7"/><line x1="1039.20" y1="623.0" x2="1039.20" y2="632.7"/><line x1="1042.10" y1="623.0" x2="1042.10" y2="632.7"/><line x1="1045.00" y1="623.0" x2="1045.00" y2="632.7"/><line x1="1047.90" y1="623.0" x2="1047.90" y2="632.7"/><line x1="1053.69" y1="623.0" x2="1053.69" y2="632.7"/><line x1="1056.58" y1="623.0" x2="1056.58" y2="632.7"/><line x1="1059.47" y1="623.0" x2="1059.47" y2="632.7"/><line x1="1062.36" y1="623.0" x2="1062.36" y2="632.7"/><line x1="1065.25" y1="623.0" x2="1065.25" y2="632.7"/><line x1="1068.14" y1="623.0" x2="1068.14" y2="632.7"/><line x1="1071.03" y1="623.0" x2="1071.03" y2="632.7"/><line x1="1073.92" y1="623.0" x2="1073.92" y2="632.7"/><line x1="1076.81" y1="623.0" x2="1076.81" y2="632.7"/><line x1="1082.60" y1="623.0" x2="1082.60" y2="632.7"/><line x1="1085.50" y1="623.0" x2="1085.50" y2="632.7"/><line x1="1088.40" y1="623.0" x2="1088.40" y2="632.7"/><line x1="1091.30" y1="623.0" x2="1091.30" y2="632.7"/><line x1="1094.20" y1="623.0" x2="1094.20" y2="632.7"/><line x1="1097.10" y1="623.0" x2="1097.10" y2="632.7"/><line x1="1100.00" y1="623.0" x2="1100.00" y2="632.7"/><line x1="1102.90" y1="623.0" x2="1102.90" y2="632.7"/><line x1="1108.72" y1="623.0" x2="1108.72" y2="632.7"/><line x1="1111.64" y1="623.0" x2="1111.64" y2="632.7"/><line x1="1114.56" y1="623.0" x2="1114.56" y2="632.7"/><line x1="1117.48" y1="623.0" x2="1117.48" y2="632.7"/><line x1="1120.40" y1="623.0" x2="1120.40" y2="632.7"/><line x1="1123.32" y1="623.0" x2="1123.32" y2="632.7"/><line x1="1126.24" y1="623.0" x2="1126.24" y2="632.7"/><line x1="1129.16" y1="623.0" x2="1129.16" y2="632.7"/><line x1="1132.08" y1="623.0" x2="1132.08" y2="632.7"/></g><text x="763.6" y="571.3" font-size="11.5" font-weight="bold" fill="#3d3d3d">MP3500</text><text x="1135" y="594.6" font-size="10.3" fill="#555" text-anchor="end">9.4 m–10.7 m</text><text x="1135" y="608.9" font-size="10.3" fill="#555" text-anchor="end">(31′–35′)</text><circle cx="1121.7" cy="473" r="0.9" fill="#222"/><line x1="7.3" y1="315.5" x2="286.7" y2="315.5" stroke="#8a8a8a" stroke-width="1.2"/><defs><linearGradient id="lbg" x1="0" y1="0" x2="1" y2="0"><stop offset="0" stop-color="#a9dbf3"/><stop offset="1" stop-color="#8ccdef"/></linearGradient></defs><path d="M72.1,132.9 L74.0,131.7 L76.0,130.5 L78.1,129.3 L80.2,128.2 L82.3,127.1 L84.5,126.1 L97.0,142.8 L95.4,143.5 L93.7,144.2 L92.1,145.0 L90.6,145.8 L89.1,146.6 L87.6,147.4 Z" fill="url(#lbg)"/><path d="M86.6,125.1 L88.7,124.3 L90.8,123.4 L93.0,122.6 L95.2,121.9 L97.4,121.1 L99.6,120.5 L108.6,139.0 L106.8,139.5 L105.2,140.0 L103.5,140.5 L101.9,141.0 L100.2,141.6 L98.7,142.2 Z" fill="url(#lbg)"/><path d="M102.0,119.8 L104.3,119.2 L106.6,118.6 L109.0,118.1 L111.3,117.6 L113.7,117.2 L116.1,116.8 L121.1,136.6 L119.3,136.8 L117.4,137.1 L115.7,137.4 L113.9,137.8 L112.1,138.2 L110.4,138.6 Z" fill="url(#lbg)"/><path d="M118.6,116.4 L121.0,116.1 L123.5,115.9 L125.9,115.6 L128.4,115.5 L130.8,115.3 L133.3,115.2 L134.2,135.5 L132.3,135.6 L130.4,135.7 L128.6,135.8 L126.7,135.9 L124.8,136.1 L123.0,136.3 Z" fill="url(#lbg)"/><path d="M135.9,115.2 L138.3,115.2 L140.8,115.3 L143.3,115.3 L145.7,115.5 L148.2,115.7 L150.6,115.9 L147.4,136.0 L145.5,135.8 L143.6,135.7 L141.8,135.6 L139.9,135.5 L138.0,135.5 L136.1,135.5 Z" fill="url(#lbg)"/><path d="M153.2,116.1 L155.6,116.5 L158.0,116.8 L160.4,117.2 L162.8,117.6 L165.1,118.1 L167.5,118.6 L160.2,137.8 L158.4,137.5 L156.6,137.1 L154.8,136.8 L153.0,136.6 L151.1,136.3 L149.3,136.1 Z" fill="url(#lbg)"/><path d="M169.9,119.2 L172.2,119.8 L174.4,120.5 L176.7,121.2 L178.9,121.9 L181.1,122.7 L183.2,123.5 L172.2,141.0 L170.6,140.5 L168.9,140.0 L167.2,139.5 L165.5,139.0 L163.8,138.6 L162.0,138.2 Z" fill="url(#lbg)"/><path d="M185.5,124.3 L187.5,125.2 L189.6,126.1 L191.6,127.1 L193.6,128.1 L195.5,129.1 L197.4,130.1 L183.0,145.5 L181.5,144.8 L180.1,144.1 L178.6,143.5 L177.0,142.8 L175.5,142.2 L173.9,141.6 Z" fill="url(#lbg)"/><path d="M199.3,131.3 L201.1,132.4 L202.9,133.6 L204.6,134.8 L206.2,136.0 L207.9,137.2 L209.4,138.5 L192.1,151.1 L190.9,150.3 L189.7,149.4 L188.5,148.6 L187.2,147.8 L185.8,147.1 L184.4,146.3 Z" fill="url(#lbg)"/><path d="M211.0,139.9 L212.5,141.2 L213.9,142.5 L215.2,143.9 L216.5,145.3 L217.7,146.7 L218.9,148.2 L199.4,157.6 L198.5,156.7 L197.5,155.7 L196.5,154.8 L195.5,153.9 L194.4,152.9 L193.3,152.1 Z" fill="url(#lbg)"/><path d="M214.5,141.5 L229,143 L216,163 L185,160.5 L200,153 Z" fill="#92cff0"/><path d="M70.9,134.3 L63.4,140.0 L57.1,146.3 L52.0,153.1 L48.1,160.2 L45.7,167.6 L44.6,175.1 L45.0,182.7 L46.8,190.2 L49.9,197.5 L54.4,204.4 L60.1,211.0 L67.1,217.0 L88.5,202.9 L84.8,198.7 L81.8,194.3 L79.5,189.6 L77.9,184.7 L77.1,179.7 L77.1,174.7 L77.8,169.8 L79.3,164.9 L81.6,160.2 L84.5,155.7 L88.1,151.5 L92.4,147.6 Z" fill="#38a9df"/><line x1="22" y1="251.5" x2="116" y2="193.5" stroke="#38a9df" stroke-width="7.2" stroke-dasharray="16.5 2.2"/><path d="M62,119 C100,95 190,90 236,139" fill="none" stroke="#3aa2d6" stroke-width="3.6"/><path d="M56,121 L67,113 L68,124 Z" fill="#3aa2d6"/><path d="M243,143 L229,139 L239,133 Z" fill="#3aa2d6"/><text x="48.5" y="134.6" font-size="12" font-weight="bold" fill="#3a9fd2" letter-spacing="-0.6">90°</text><text x="232.6" y="154.4" font-size="11.5" font-weight="bold" fill="#3a9fd2" letter-spacing="-0.5">210°</text><text x="44.5" y="226" font-size="17" font-weight="bold" fill="#3a9fd2" letter-spacing="-0.8">0°</text><defs><pattern id="chev" width="26" height="5" patternUnits="userSpaceOnUse"><path d="M0,1 Q13,5 26,1" fill="none" stroke="#d2d0cc" stroke-width="1.1"/></pattern><linearGradient id="stemg" x1="0" x2="1"><stop offset="0" stop-color="#8f8d89"/><stop offset="0.45" stop-color="#b9b7b3"/><stop offset="1" stop-color="#8a8884"/></linearGradient><linearGradient id="bodyg" x1="0" x2="1"><stop offset="0" stop-color="#4e4c4a"/><stop offset="0.5" stop-color="#7a7876"/><stop offset="1" stop-color="#4a4846"/></linearGradient><linearGradient id="capg" x1="0" x2="1"><stop offset="0" stop-color="#8e8c88"/><stop offset="0.5" stop-color="#cfcdc9"/><stop offset="1" stop-color="#8a8884"/></linearGradient></defs><path d="M126,236 L152,236 L152,288 Q139,294 126,288 Z" fill="url(#stemg)" stroke="#4a4a4a" stroke-width="1.2"/><rect x="127" y="238" width="24" height="50" fill="url(#chev)"/><path d="M125.5,217 L152.5,217 L152.5,238 Q139,241 125.5,238 Z" fill="#d9d7d3" stroke="#4a4a4a" stroke-width="1.2"/><path d="M118,192 L159,192 L159,217 Q138.5,224 118,217 Z" fill="url(#bodyg)" stroke="#333" stroke-width="1.2"/><g stroke="#3a3836" stroke-width="1"><line x1="121" y1="207" x2="121" y2="218"/><line x1="124" y1="207" x2="124" y2="218"/><line x1="127" y1="207" x2="127" y2="218"/><line x1="130" y1="207" x2="130" y2="220"/><line x1="133" y1="207" x2="133" y2="220"/><line x1="136" y1="207" x2="136" y2="220"/><line x1="139" y1="207" x2="139" y2="220"/><line x1="142" y1="207" x2="142" y2="220"/><line x1="145" y1="207" x2="145" y2="220"/><line x1="148" y1="207" x2="148" y2="220"/><line x1="151" y1="207" x2="151" y2="218"/><line x1="154" y1="207" x2="154" y2="218"/><line x1="157" y1="207" x2="157" y2="218"/></g><path d="M96.6,152.5 L104.4,148 L122,156 L116,168 L98,160 Z" fill="#e9e8e6" stroke="#4a4a4a" stroke-width="1.3"/><g stroke="#9a9896" stroke-width="0.8"><line x1="101" y1="153" x2="118" y2="160"/><line x1="100" y1="157" x2="117" y2="164"/></g><ellipse cx="138.6" cy="181" rx="28.8" ry="17.5" fill="#f4f4f3" stroke="#4a4a4a" stroke-width="1.3"/><g transform="translate(156,187.5) rotate(27.5)"><path d="M-4,-11.5 L67,-11.5 Q79,-11.5 79,0 Q79,12 67,12 L-9,12 Q-13,0 -4,-11.5 Z" fill="#f7f7f6" stroke="#4a4a4a" stroke-width="1.6"/><path d="M2,-7.5 L67,-7.5 Q74,-7.5 74,0 Q74,7.5 67,7.5 L-4,7.5" fill="none" stroke="#a2a09e" stroke-width="0.9"/><g fill="none" stroke="#8a8886" stroke-width="0.9"><path d="M8,-7.5 L14,0 L8,7.5"/><path d="M19,-7.5 L25,0 L19,7.5"/><path d="M30,-7.5 L36,0 L30,7.5"/><path d="M41,-7.5 L47,0 L41,7.5"/><path d="M52,-7.5 L58,0 L52,7.5"/><path d="M63,-7.5 L69,0 L63,7.5"/></g></g><path d="M116.5,162 L116.5,177 A22,9 0 0 0 160.5,177 L160.5,162 Z" fill="url(#capg)" stroke="#4a4a4a" stroke-width="1.2"/><g stroke="#3c3a38" stroke-width="1.1"><line x1="118.0" y1="172.0" x2="118.0" y2="178.0"/><line x1="121.0" y1="173.3" x2="121.0" y2="179.8"/><line x1="124.0" y1="174.6" x2="124.0" y2="181.5"/><line x1="127.0" y1="175.7" x2="127.0" y2="183.0"/><line x1="130.0" y1="176.7" x2="130.0" y2="184.3"/><line x1="133.0" y1="177.4" x2="133.0" y2="185.2"/><line x1="136.0" y1="177.8" x2="136.0" y2="185.8"/><line x1="139.0" y1="178.0" x2="139.0" y2="186.0"/><line x1="142.0" y1="177.8" x2="142.0" y2="185.8"/><line x1="145.0" y1="177.4" x2="145.0" y2="185.2"/><line x1="148.0" y1="176.7" x2="148.0" y2="184.3"/><line x1="151.0" y1="175.7" x2="151.0" y2="183.0"/><line x1="154.0" y1="174.6" x2="154.0" y2="181.5"/><line x1="157.0" y1="173.3" x2="157.0" y2="179.8"/><line x1="160.0" y1="172.0" x2="160.0" y2="178.0"/></g><ellipse cx="138.5" cy="162" rx="22" ry="9.5" fill="#c4c2be" stroke="#4a4a4a" stroke-width="1.2"/><ellipse cx="138.8" cy="161.5" rx="12.8" ry="7.6" fill="#5e5c5a"/><ellipse cx="139" cy="162.5" rx="2.6" ry="2.2" fill="#e6e6e6"/><path d="M93,229 Q135,245 177,231" fill="none" stroke="#65a83b" stroke-width="4.2"/><path d="M88,228.5 L99,223 L97,234 Z" fill="#65a83b"/><path d="M182,230.5 L171,225 L174,236.5 Z" fill="#65a83b"/><rect x="75.8" y="240.3" width="17.8" height="5" fill="#5c9e38"/><rect x="82.2" y="233.9" width="5" height="17.8" fill="#5c9e38"/><rect x="175.3" y="241.1" width="18.7" height="4.9" fill="#d83a2c"/><rect x="128.7" y="335.2" width="18.3" height="4.4" fill="#d33528"/><path d="M125.7,559 L149.3,559 L149.3,611 Q137.5,617 125.7,611 Z" fill="url(#stemg)" stroke="#4a4a4a" stroke-width="1.2"/><rect x="126.5" y="561" width="22" height="50" fill="url(#chev)"/><path d="M124.4,549 L150.6,549 L150.6,560 Q137.5,563 124.4,560 Z" fill="#ecebe8" stroke="#4a4a4a" stroke-width="1.1"/><path d="M121,540 L154,540 L154,549.5 Q137.5,553 121,549.5 Z" fill="#8a8884" stroke="#4a4a4a" stroke-width="1.1"/><path d="M116.5,510 L156,510 L156,540 Q136,546 116.5,540 Z" fill="url(#bodyg)" stroke="#333" stroke-width="1.2"/><g stroke="#3a3836" stroke-width="1"><line x1="119" y1="528" x2="119" y2="542"/><line x1="122" y1="528" x2="122" y2="542"/><line x1="125" y1="528" x2="125" y2="542"/><line x1="128" y1="528" x2="128" y2="542"/><line x1="131" y1="528" x2="131" y2="542"/><line x1="134" y1="528" x2="134" y2="542"/><line x1="137" y1="528" x2="137" y2="542"/><line x1="140" y1="528" x2="140" y2="542"/><line x1="143" y1="528" x2="143" y2="542"/><line x1="146" y1="528" x2="146" y2="542"/><line x1="149" y1="528" x2="149" y2="542"/><line x1="152" y1="528" x2="152" y2="542"/><line x1="155" y1="528" x2="155" y2="542"/></g><path d="M112.6,492 L112.6,505 A22.3,7 0 0 0 157.2,505 L157.2,492 Z" fill="url(#capg)" stroke="#4a4a4a" stroke-width="1.2"/><ellipse cx="134.9" cy="491" rx="22.5" ry="7.4" fill="#d8d6d2" stroke="#4a4a4a" stroke-width="1.2"/><ellipse cx="135.5" cy="491.5" rx="12" ry="4.4" fill="#4d4b49"/><path d="M121,428 L121,366 Q121,356 129,351 Q138,347 146,351 Q154,356 154,366 L154,428 Q146,432 145,440 L131,440 Q130,432 121,428 Z" fill="#f6f6f5" stroke="#4a4a4a" stroke-width="1.6"/><path d="M126,424 L126,368 Q126,357 137.5,352.5 Q149,357 149,368 L149,424" fill="none" stroke="#9a9896" stroke-width="0.9"/><g fill="none" stroke="#8a8886" stroke-width="0.9"><path d="M126,372 L137.5,364 L149,372"/><path d="M126,384 L137.5,376 L149,384"/><path d="M126,396 L137.5,388 L149,396"/><path d="M126,408 L137.5,400 L149,408"/><path d="M126,420 L137.5,412 L149,420"/><line x1="137.5" y1="356" x2="137.5" y2="366"/></g><rect x="131" y="468" width="17" height="24" fill="#e4e3e0" stroke="#4a4a4a" stroke-width="1"/><g stroke="#a9a7a4" stroke-width="0.8"><line x1="136" y1="470" x2="136" y2="491"/><line x1="141" y1="470" x2="141" y2="491"/><line x1="145" y1="470" x2="145" y2="491"/></g><path d="M113,447 Q130,440 150,441" fill="none" stroke="#65a83b" stroke-width="5.5"/><g transform="translate(138.5,450) rotate(-22)"><ellipse rx="23.5" ry="27.8" fill="#f4f4f3" stroke="#4a4a4a" stroke-width="1.5"/><ellipse cx="0.5" cy="0" rx="15" ry="19" fill="#fff" stroke="#4a4a4a" stroke-width="1.6"/></g><path d="M150,441 Q178,447 181,468 Q180,487 160,494" fill="none" stroke="#65a83b" stroke-width="6"/><path d="M146,497 L167,481 L168,510 Z" fill="#65a83b"/><path d="M155,503 Q110,507 95,488 Q88,470 110,455" fill="none" stroke="#65a83b" stroke-width="6"/><path d="M103,440 L121,451 L102,463 Z" fill="#65a83b"/><text x="103" y="484.3" font-size="15.5" font-weight="bold" fill="#5c9e38" letter-spacing="-0.5">X4</text><g fill="none" stroke="#7fc3e3" stroke-width="1.05"><path d="M232.1,454.5 C231.6,440.5 228.2,439.1 227.8,455.5"/><path d="M234.1,454.5 C234.6,440.5 238.0,439.1 238.4,455.5"/><path d="M232.1,454.5 C231.6,440.5 223.3,438.6 222.5,455.5"/><path d="M234.1,454.5 C234.6,440.5 242.9,438.6 243.7,455.5"/><path d="M232.1,454.5 C231.6,440.5 218.5,438.2 217.2,455.5"/><path d="M234.1,454.5 C234.6,440.5 247.7,438.2 249.0,455.5"/><path d="M232.1,454.5 C231.6,440.5 213.6,437.7 211.9,455.5"/><path d="M234.1,454.5 C234.6,440.5 252.6,437.7 254.3,455.5"/><path d="M232.1,454.5 C231.6,440.5 208.7,437.3 206.6,455.5"/><path d="M234.1,454.5 C234.6,440.5 257.5,437.3 259.6,455.5"/><path d="M232.1,454.5 C231.6,440.5 203.8,436.8 201.3,455.5"/><path d="M234.1,454.5 C234.6,440.5 262.4,436.8 264.9,455.5"/><path d="M232.1,454.5 C231.6,440.5 199.0,436.4 196.0,455.5"/><path d="M234.1,454.5 C234.6,440.5 267.2,436.4 270.2,455.5"/><path d="M232.1,454.5 C231.6,440.5 194.1,435.9 190.7,455.5"/><path d="M234.1,454.5 C234.6,440.5 272.1,435.9 275.5,455.5"/><path d="M232.1,454.5 C231.6,440.5 189.2,435.5 185.4,455.5"/><path d="M234.1,454.5 C234.6,440.5 277.0,435.5 280.8,455.5"/><path d="M232.1,454.5 C231.6,440.5 184.3,435.0 180.1,455.5"/><path d="M234.1,454.5 C234.6,440.5 281.9,435.0 286.1,455.5"/></g><path d="M224.1,441.0 Q230.6,444.5 230.6,454.5 L235.6,454.5 Q235.6,444.5 242.1,441.0 Q233.1,438.5 224.1,441.0 Z" fill="#7cc2e2" opacity="0.75"/><rect x="230.5" y="454.5" width="5.2" height="4" fill="#6f9fb3"/><path d="M230.7,458.5 L230.7,470 M235.5,458.5 L235.5,470" stroke="#9a9a9a" stroke-width="1"/><g fill="none" stroke="#7fc3e3" stroke-width="1.05"><path d="M232.1,501.7 C231.6,491.0 229.4,489.6 229.1,502.5"/><path d="M234.1,501.7 C234.6,491.0 236.8,489.6 237.1,502.5"/><path d="M232.1,501.7 C231.6,491.0 225.7,489.3 225.1,502.5"/><path d="M234.1,501.7 C234.6,491.0 240.5,489.3 241.1,502.5"/><path d="M232.1,501.7 C231.6,491.0 222.1,488.9 221.1,502.5"/><path d="M234.1,501.7 C234.6,491.0 244.1,488.9 245.1,502.5"/><path d="M232.1,501.7 C231.6,491.0 218.4,488.6 217.1,502.5"/><path d="M234.1,501.7 C234.6,491.0 247.8,488.6 249.1,502.5"/><path d="M232.1,501.7 C231.6,491.0 214.7,488.2 213.1,502.5"/><path d="M234.1,501.7 C234.6,491.0 251.5,488.2 253.1,502.5"/><path d="M232.1,501.7 C231.6,491.0 211.0,487.9 209.1,502.5"/><path d="M234.1,501.7 C234.6,491.0 255.2,487.9 257.1,502.5"/><path d="M232.1,501.7 C231.6,491.0 207.3,487.6 205.1,502.5"/><path d="M234.1,501.7 C234.6,491.0 258.9,487.6 261.1,502.5"/><path d="M232.1,501.7 C231.6,491.0 203.7,487.2 201.1,502.5"/><path d="M234.1,501.7 C234.6,491.0 262.5,487.2 265.1,502.5"/><path d="M232.1,501.7 C231.6,491.0 200.0,486.9 197.1,502.5"/><path d="M234.1,501.7 C234.6,491.0 266.2,486.9 269.1,502.5"/><path d="M232.1,501.7 C231.6,491.0 196.3,486.5 193.1,502.5"/><path d="M234.1,501.7 C234.6,491.0 269.9,486.5 273.1,502.5"/></g><path d="M224.1,491.5 Q230.6,495 230.6,501.7 L235.6,501.7 Q235.6,495 242.1,491.5 Q233.1,489 224.1,491.5 Z" fill="#7cc2e2" opacity="0.75"/><rect x="230.5" y="501.7" width="5.2" height="4" fill="#6f9fb3"/><path d="M230.7,505.7 L230.7,517.5 M235.5,505.7 L235.5,517.5" stroke="#9a9a9a" stroke-width="1"/><path d="M224.8,473.8 L241.4,473.8 L241.4,478.3 L249.7,478.3 L233.1,487.3 L217.3,478.3 L224.8,478.3 Z" fill="#e0291d"/><text x="215.3" y="536" font-size="14" font-weight="bold" fill="#c7342a" letter-spacing="0.8">-25%</text></svg><div class="wm wl"></div><svg width="1200" height="762" viewBox="0 0 1200 762" style="position:absolute;left:0;top:0;mix-blend-mode:multiply" font-family="Liberation Sans, sans-serif"><defs><g id="logo" fill="#a6dba1"><text x="-31" y="7.5" font-size="19.5" font-weight="bold">P</text><circle r="13.3" fill="none" stroke="#a6dba1" stroke-width="1.6"/><circle r="10.2"/><path d="M0,-6 Q-4.2,-0.5 -4.2,2 A4.2,4.2 0 0 0 4.2,2 Q4.2,-0.5 0,-6 Z" fill="#fff"/><text x="16.8" y="7.5" font-size="18.5" font-weight="bold" letter-spacing="1.6">CA</text></g></defs><use href="#logo" x="-80" y="381"/><use href="#logo" x="5" y="381"/><use href="#logo" x="90" y="381"/><use href="#logo" x="175" y="381"/><use href="#logo" x="260" y="381"/><use href="#logo" x="345" y="381"/><use href="#logo" x="430" y="381"/><use href="#logo" x="515" y="381"/><use href="#logo" x="600" y="381"/><use href="#logo" x="685" y="381"/><use href="#logo" x="770" y="381"/><use href="#logo" x="855" y="381"/><use href="#logo" x="940" y="381"/><use href="#logo" x="1025" y="381"/><use href="#logo" x="1110" y="381"/><use href="#logo" x="1195" y="381"/></svg><div class="wm wov"></div></body></html>
